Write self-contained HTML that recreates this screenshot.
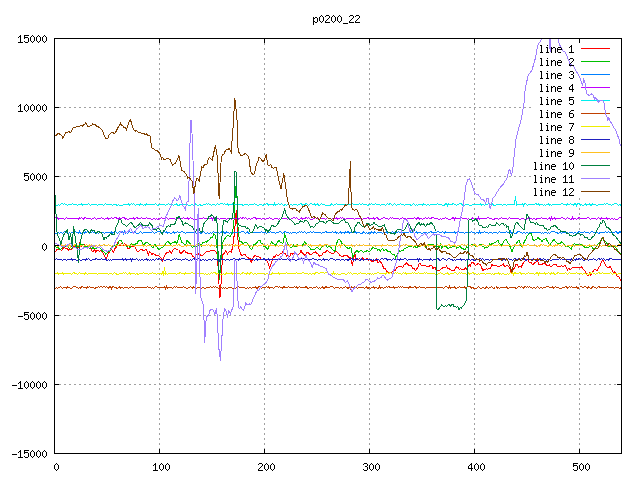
<!DOCTYPE html><html><head><meta charset="utf-8"><style>
html,body{margin:0;padding:0;background:#fff;width:640px;height:480px;overflow:hidden}
svg{display:block}
</style></head><body>
<svg width="640" height="480" viewBox="0 0 640 480" shape-rendering="crispEdges">
<defs><clipPath id="c"><rect x="55" y="39" width="566" height="414"/></clipPath></defs>

<path fill="#a0a0a0" d="M59 384h2v1h-2zM64 384h2v1h-2zM69 384h2v1h-2zM74 384h2v1h-2zM79 384h2v1h-2zM84 384h2v1h-2zM89 384h2v1h-2zM94 384h2v1h-2zM99 384h2v1h-2zM104 384h2v1h-2zM109 384h2v1h-2zM114 384h2v1h-2zM119 384h2v1h-2zM124 384h2v1h-2zM129 384h2v1h-2zM134 384h2v1h-2zM139 384h2v1h-2zM144 384h2v1h-2zM149 384h2v1h-2zM154 384h2v1h-2zM159 384h2v1h-2zM164 384h2v1h-2zM169 384h2v1h-2zM174 384h2v1h-2zM179 384h2v1h-2zM184 384h2v1h-2zM189 384h2v1h-2zM194 384h2v1h-2zM199 384h2v1h-2zM204 384h2v1h-2zM209 384h2v1h-2zM214 384h2v1h-2zM219 384h2v1h-2zM224 384h2v1h-2zM229 384h2v1h-2zM234 384h2v1h-2zM239 384h2v1h-2zM244 384h2v1h-2zM249 384h2v1h-2zM254 384h2v1h-2zM259 384h2v1h-2zM264 384h2v1h-2zM269 384h2v1h-2zM274 384h2v1h-2zM279 384h2v1h-2zM284 384h2v1h-2zM289 384h2v1h-2zM294 384h2v1h-2zM299 384h2v1h-2zM304 384h2v1h-2zM309 384h2v1h-2zM314 384h2v1h-2zM319 384h2v1h-2zM324 384h2v1h-2zM329 384h2v1h-2zM334 384h2v1h-2zM339 384h2v1h-2zM344 384h2v1h-2zM349 384h2v1h-2zM354 384h2v1h-2zM359 384h2v1h-2zM364 384h2v1h-2zM369 384h2v1h-2zM374 384h2v1h-2zM379 384h2v1h-2zM384 384h2v1h-2zM389 384h2v1h-2zM394 384h2v1h-2zM399 384h2v1h-2zM404 384h2v1h-2zM409 384h2v1h-2zM414 384h2v1h-2zM419 384h2v1h-2zM424 384h2v1h-2zM429 384h2v1h-2zM434 384h2v1h-2zM439 384h2v1h-2zM444 384h2v1h-2zM449 384h2v1h-2zM454 384h2v1h-2zM459 384h2v1h-2zM464 384h2v1h-2zM469 384h2v1h-2zM474 384h2v1h-2zM479 384h2v1h-2zM484 384h2v1h-2zM489 384h2v1h-2zM494 384h2v1h-2zM499 384h2v1h-2zM504 384h2v1h-2zM509 384h2v1h-2zM514 384h2v1h-2zM519 384h2v1h-2zM524 384h2v1h-2zM529 384h2v1h-2zM534 384h2v1h-2zM539 384h2v1h-2zM544 384h2v1h-2zM549 384h2v1h-2zM554 384h2v1h-2zM559 384h2v1h-2zM564 384h2v1h-2zM569 384h2v1h-2zM574 384h2v1h-2zM579 384h2v1h-2zM584 384h2v1h-2zM589 384h2v1h-2zM594 384h2v1h-2zM599 384h2v1h-2zM604 384h2v1h-2zM609 384h2v1h-2zM614 384h2v1h-2zM59 315h2v1h-2zM64 315h2v1h-2zM69 315h2v1h-2zM74 315h2v1h-2zM79 315h2v1h-2zM84 315h2v1h-2zM89 315h2v1h-2zM94 315h2v1h-2zM99 315h2v1h-2zM104 315h2v1h-2zM109 315h2v1h-2zM114 315h2v1h-2zM119 315h2v1h-2zM124 315h2v1h-2zM129 315h2v1h-2zM134 315h2v1h-2zM139 315h2v1h-2zM144 315h2v1h-2zM149 315h2v1h-2zM154 315h2v1h-2zM159 315h2v1h-2zM164 315h2v1h-2zM169 315h2v1h-2zM174 315h2v1h-2zM179 315h2v1h-2zM184 315h2v1h-2zM189 315h2v1h-2zM194 315h2v1h-2zM199 315h2v1h-2zM204 315h2v1h-2zM209 315h2v1h-2zM214 315h2v1h-2zM219 315h2v1h-2zM224 315h2v1h-2zM229 315h2v1h-2zM234 315h2v1h-2zM239 315h2v1h-2zM244 315h2v1h-2zM249 315h2v1h-2zM254 315h2v1h-2zM259 315h2v1h-2zM264 315h2v1h-2zM269 315h2v1h-2zM274 315h2v1h-2zM279 315h2v1h-2zM284 315h2v1h-2zM289 315h2v1h-2zM294 315h2v1h-2zM299 315h2v1h-2zM304 315h2v1h-2zM309 315h2v1h-2zM314 315h2v1h-2zM319 315h2v1h-2zM324 315h2v1h-2zM329 315h2v1h-2zM334 315h2v1h-2zM339 315h2v1h-2zM344 315h2v1h-2zM349 315h2v1h-2zM354 315h2v1h-2zM359 315h2v1h-2zM364 315h2v1h-2zM369 315h2v1h-2zM374 315h2v1h-2zM379 315h2v1h-2zM384 315h2v1h-2zM389 315h2v1h-2zM394 315h2v1h-2zM399 315h2v1h-2zM404 315h2v1h-2zM409 315h2v1h-2zM414 315h2v1h-2zM419 315h2v1h-2zM424 315h2v1h-2zM429 315h2v1h-2zM434 315h2v1h-2zM439 315h2v1h-2zM444 315h2v1h-2zM449 315h2v1h-2zM454 315h2v1h-2zM459 315h2v1h-2zM464 315h2v1h-2zM469 315h2v1h-2zM474 315h2v1h-2zM479 315h2v1h-2zM484 315h2v1h-2zM489 315h2v1h-2zM494 315h2v1h-2zM499 315h2v1h-2zM504 315h2v1h-2zM509 315h2v1h-2zM514 315h2v1h-2zM519 315h2v1h-2zM524 315h2v1h-2zM529 315h2v1h-2zM534 315h2v1h-2zM539 315h2v1h-2zM544 315h2v1h-2zM549 315h2v1h-2zM554 315h2v1h-2zM559 315h2v1h-2zM564 315h2v1h-2zM569 315h2v1h-2zM574 315h2v1h-2zM579 315h2v1h-2zM584 315h2v1h-2zM589 315h2v1h-2zM594 315h2v1h-2zM599 315h2v1h-2zM604 315h2v1h-2zM609 315h2v1h-2zM614 315h2v1h-2zM59 245h2v1h-2zM64 245h2v1h-2zM69 245h2v1h-2zM74 245h2v1h-2zM79 245h2v1h-2zM84 245h2v1h-2zM89 245h2v1h-2zM94 245h2v1h-2zM99 245h2v1h-2zM104 245h2v1h-2zM109 245h2v1h-2zM114 245h2v1h-2zM119 245h2v1h-2zM124 245h2v1h-2zM129 245h2v1h-2zM134 245h2v1h-2zM139 245h2v1h-2zM144 245h2v1h-2zM149 245h2v1h-2zM154 245h2v1h-2zM159 245h2v1h-2zM164 245h2v1h-2zM169 245h2v1h-2zM174 245h2v1h-2zM179 245h2v1h-2zM184 245h2v1h-2zM189 245h2v1h-2zM194 245h2v1h-2zM199 245h2v1h-2zM204 245h2v1h-2zM209 245h2v1h-2zM214 245h2v1h-2zM219 245h2v1h-2zM224 245h2v1h-2zM229 245h2v1h-2zM234 245h2v1h-2zM239 245h2v1h-2zM244 245h2v1h-2zM249 245h2v1h-2zM254 245h2v1h-2zM259 245h2v1h-2zM264 245h2v1h-2zM269 245h2v1h-2zM274 245h2v1h-2zM279 245h2v1h-2zM284 245h2v1h-2zM289 245h2v1h-2zM294 245h2v1h-2zM299 245h2v1h-2zM304 245h2v1h-2zM309 245h2v1h-2zM314 245h2v1h-2zM319 245h2v1h-2zM324 245h2v1h-2zM329 245h2v1h-2zM334 245h2v1h-2zM339 245h2v1h-2zM344 245h2v1h-2zM349 245h2v1h-2zM354 245h2v1h-2zM359 245h2v1h-2zM364 245h2v1h-2zM369 245h2v1h-2zM374 245h2v1h-2zM379 245h2v1h-2zM384 245h2v1h-2zM389 245h2v1h-2zM394 245h2v1h-2zM399 245h2v1h-2zM404 245h2v1h-2zM409 245h2v1h-2zM414 245h2v1h-2zM419 245h2v1h-2zM424 245h2v1h-2zM429 245h2v1h-2zM434 245h2v1h-2zM439 245h2v1h-2zM444 245h2v1h-2zM449 245h2v1h-2zM454 245h2v1h-2zM459 245h2v1h-2zM464 245h2v1h-2zM469 245h2v1h-2zM474 245h2v1h-2zM479 245h2v1h-2zM484 245h2v1h-2zM489 245h2v1h-2zM494 245h2v1h-2zM499 245h2v1h-2zM504 245h2v1h-2zM509 245h2v1h-2zM514 245h2v1h-2zM519 245h2v1h-2zM524 245h2v1h-2zM529 245h2v1h-2zM534 245h2v1h-2zM539 245h2v1h-2zM544 245h2v1h-2zM549 245h2v1h-2zM554 245h2v1h-2zM559 245h2v1h-2zM564 245h2v1h-2zM569 245h2v1h-2zM574 245h2v1h-2zM579 245h2v1h-2zM584 245h2v1h-2zM589 245h2v1h-2zM594 245h2v1h-2zM599 245h2v1h-2zM604 245h2v1h-2zM609 245h2v1h-2zM614 245h2v1h-2zM59 176h2v1h-2zM64 176h2v1h-2zM69 176h2v1h-2zM74 176h2v1h-2zM79 176h2v1h-2zM84 176h2v1h-2zM89 176h2v1h-2zM94 176h2v1h-2zM99 176h2v1h-2zM104 176h2v1h-2zM109 176h2v1h-2zM114 176h2v1h-2zM119 176h2v1h-2zM124 176h2v1h-2zM129 176h2v1h-2zM134 176h2v1h-2zM139 176h2v1h-2zM144 176h2v1h-2zM149 176h2v1h-2zM154 176h2v1h-2zM159 176h2v1h-2zM164 176h2v1h-2zM169 176h2v1h-2zM174 176h2v1h-2zM179 176h2v1h-2zM184 176h2v1h-2zM189 176h2v1h-2zM194 176h2v1h-2zM199 176h2v1h-2zM204 176h2v1h-2zM209 176h2v1h-2zM214 176h2v1h-2zM219 176h2v1h-2zM224 176h2v1h-2zM229 176h2v1h-2zM234 176h2v1h-2zM239 176h2v1h-2zM244 176h2v1h-2zM249 176h2v1h-2zM254 176h2v1h-2zM259 176h2v1h-2zM264 176h2v1h-2zM269 176h2v1h-2zM274 176h2v1h-2zM279 176h2v1h-2zM284 176h2v1h-2zM289 176h2v1h-2zM294 176h2v1h-2zM299 176h2v1h-2zM304 176h2v1h-2zM309 176h2v1h-2zM314 176h2v1h-2zM319 176h2v1h-2zM324 176h2v1h-2zM329 176h2v1h-2zM334 176h2v1h-2zM339 176h2v1h-2zM344 176h2v1h-2zM349 176h2v1h-2zM354 176h2v1h-2zM359 176h2v1h-2zM364 176h2v1h-2zM369 176h2v1h-2zM374 176h2v1h-2zM379 176h2v1h-2zM384 176h2v1h-2zM389 176h2v1h-2zM394 176h2v1h-2zM399 176h2v1h-2zM404 176h2v1h-2zM409 176h2v1h-2zM414 176h2v1h-2zM419 176h2v1h-2zM424 176h2v1h-2zM429 176h2v1h-2zM434 176h2v1h-2zM439 176h2v1h-2zM444 176h2v1h-2zM449 176h2v1h-2zM454 176h2v1h-2zM459 176h2v1h-2zM464 176h2v1h-2zM469 176h2v1h-2zM474 176h2v1h-2zM479 176h2v1h-2zM484 176h2v1h-2zM489 176h2v1h-2zM494 176h2v1h-2zM499 176h2v1h-2zM504 176h2v1h-2zM509 176h2v1h-2zM514 176h2v1h-2zM519 176h2v1h-2zM524 176h2v1h-2zM529 176h2v1h-2zM59 107h2v1h-2zM64 107h2v1h-2zM69 107h2v1h-2zM74 107h2v1h-2zM79 107h2v1h-2zM84 107h2v1h-2zM89 107h2v1h-2zM94 107h2v1h-2zM99 107h2v1h-2zM104 107h2v1h-2zM109 107h2v1h-2zM114 107h2v1h-2zM119 107h2v1h-2zM124 107h2v1h-2zM129 107h2v1h-2zM134 107h2v1h-2zM139 107h2v1h-2zM144 107h2v1h-2zM149 107h2v1h-2zM154 107h2v1h-2zM159 107h2v1h-2zM164 107h2v1h-2zM169 107h2v1h-2zM174 107h2v1h-2zM179 107h2v1h-2zM184 107h2v1h-2zM189 107h2v1h-2zM194 107h2v1h-2zM199 107h2v1h-2zM204 107h2v1h-2zM209 107h2v1h-2zM214 107h2v1h-2zM219 107h2v1h-2zM224 107h2v1h-2zM229 107h2v1h-2zM234 107h2v1h-2zM239 107h2v1h-2zM244 107h2v1h-2zM249 107h2v1h-2zM254 107h2v1h-2zM259 107h2v1h-2zM264 107h2v1h-2zM269 107h2v1h-2zM274 107h2v1h-2zM279 107h2v1h-2zM284 107h2v1h-2zM289 107h2v1h-2zM294 107h2v1h-2zM299 107h2v1h-2zM304 107h2v1h-2zM309 107h2v1h-2zM314 107h2v1h-2zM319 107h2v1h-2zM324 107h2v1h-2zM329 107h2v1h-2zM334 107h2v1h-2zM339 107h2v1h-2zM344 107h2v1h-2zM349 107h2v1h-2zM354 107h2v1h-2zM359 107h2v1h-2zM364 107h2v1h-2zM369 107h2v1h-2zM374 107h2v1h-2zM379 107h2v1h-2zM384 107h2v1h-2zM389 107h2v1h-2zM394 107h2v1h-2zM399 107h2v1h-2zM404 107h2v1h-2zM409 107h2v1h-2zM414 107h2v1h-2zM419 107h2v1h-2zM424 107h2v1h-2zM429 107h2v1h-2zM434 107h2v1h-2zM439 107h2v1h-2zM444 107h2v1h-2zM449 107h2v1h-2zM454 107h2v1h-2zM459 107h2v1h-2zM464 107h2v1h-2zM469 107h2v1h-2zM474 107h2v1h-2zM479 107h2v1h-2zM484 107h2v1h-2zM489 107h2v1h-2zM494 107h2v1h-2zM499 107h2v1h-2zM504 107h2v1h-2zM509 107h2v1h-2zM514 107h2v1h-2zM519 107h2v1h-2zM524 107h2v1h-2zM529 107h2v1h-2zM159 43h1v2h-1zM159 48h1v2h-1zM159 53h1v2h-1zM159 58h1v2h-1zM159 63h1v2h-1zM159 68h1v2h-1zM159 73h1v2h-1zM159 78h1v2h-1zM159 83h1v2h-1zM159 88h1v2h-1zM159 93h1v2h-1zM159 98h1v2h-1zM159 103h1v2h-1zM159 108h1v2h-1zM159 113h1v2h-1zM159 118h1v2h-1zM159 123h1v2h-1zM159 128h1v2h-1zM159 133h1v2h-1zM159 138h1v2h-1zM159 143h1v2h-1zM159 148h1v2h-1zM159 153h1v2h-1zM159 158h1v2h-1zM159 163h1v2h-1zM159 168h1v2h-1zM159 173h1v2h-1zM159 178h1v2h-1zM159 183h1v2h-1zM159 188h1v2h-1zM159 193h1v2h-1zM159 198h1v2h-1zM159 203h1v2h-1zM159 208h1v2h-1zM159 213h1v2h-1zM159 218h1v2h-1zM159 223h1v2h-1zM159 228h1v2h-1zM159 233h1v2h-1zM159 238h1v2h-1zM159 243h1v2h-1zM159 248h1v2h-1zM159 253h1v2h-1zM159 258h1v2h-1zM159 263h1v2h-1zM159 268h1v2h-1zM159 273h1v2h-1zM159 278h1v2h-1zM159 283h1v2h-1zM159 288h1v2h-1zM159 293h1v2h-1zM159 298h1v2h-1zM159 303h1v2h-1zM159 308h1v2h-1zM159 313h1v2h-1zM159 318h1v2h-1zM159 323h1v2h-1zM159 328h1v2h-1zM159 333h1v2h-1zM159 338h1v2h-1zM159 343h1v2h-1zM159 348h1v2h-1zM159 353h1v2h-1zM159 358h1v2h-1zM159 363h1v2h-1zM159 368h1v2h-1zM159 373h1v2h-1zM159 378h1v2h-1zM159 383h1v2h-1zM159 388h1v2h-1zM159 393h1v2h-1zM159 398h1v2h-1zM159 403h1v2h-1zM159 408h1v2h-1zM159 413h1v2h-1zM159 418h1v2h-1zM159 423h1v2h-1zM159 428h1v2h-1zM159 433h1v2h-1zM159 438h1v2h-1zM159 443h1v2h-1zM159 448h1v2h-1zM264 43h1v2h-1zM264 48h1v2h-1zM264 53h1v2h-1zM264 58h1v2h-1zM264 63h1v2h-1zM264 68h1v2h-1zM264 73h1v2h-1zM264 78h1v2h-1zM264 83h1v2h-1zM264 88h1v2h-1zM264 93h1v2h-1zM264 98h1v2h-1zM264 103h1v2h-1zM264 108h1v2h-1zM264 113h1v2h-1zM264 118h1v2h-1zM264 123h1v2h-1zM264 128h1v2h-1zM264 133h1v2h-1zM264 138h1v2h-1zM264 143h1v2h-1zM264 148h1v2h-1zM264 153h1v2h-1zM264 158h1v2h-1zM264 163h1v2h-1zM264 168h1v2h-1zM264 173h1v2h-1zM264 178h1v2h-1zM264 183h1v2h-1zM264 188h1v2h-1zM264 193h1v2h-1zM264 198h1v2h-1zM264 203h1v2h-1zM264 208h1v2h-1zM264 213h1v2h-1zM264 218h1v2h-1zM264 223h1v2h-1zM264 228h1v2h-1zM264 233h1v2h-1zM264 238h1v2h-1zM264 243h1v2h-1zM264 248h1v2h-1zM264 253h1v2h-1zM264 258h1v2h-1zM264 263h1v2h-1zM264 268h1v2h-1zM264 273h1v2h-1zM264 278h1v2h-1zM264 283h1v2h-1zM264 288h1v2h-1zM264 293h1v2h-1zM264 298h1v2h-1zM264 303h1v2h-1zM264 308h1v2h-1zM264 313h1v2h-1zM264 318h1v2h-1zM264 323h1v2h-1zM264 328h1v2h-1zM264 333h1v2h-1zM264 338h1v2h-1zM264 343h1v2h-1zM264 348h1v2h-1zM264 353h1v2h-1zM264 358h1v2h-1zM264 363h1v2h-1zM264 368h1v2h-1zM264 373h1v2h-1zM264 378h1v2h-1zM264 383h1v2h-1zM264 388h1v2h-1zM264 393h1v2h-1zM264 398h1v2h-1zM264 403h1v2h-1zM264 408h1v2h-1zM264 413h1v2h-1zM264 418h1v2h-1zM264 423h1v2h-1zM264 428h1v2h-1zM264 433h1v2h-1zM264 438h1v2h-1zM264 443h1v2h-1zM264 448h1v2h-1zM369 43h1v2h-1zM369 48h1v2h-1zM369 53h1v2h-1zM369 58h1v2h-1zM369 63h1v2h-1zM369 68h1v2h-1zM369 73h1v2h-1zM369 78h1v2h-1zM369 83h1v2h-1zM369 88h1v2h-1zM369 93h1v2h-1zM369 98h1v2h-1zM369 103h1v2h-1zM369 108h1v2h-1zM369 113h1v2h-1zM369 118h1v2h-1zM369 123h1v2h-1zM369 128h1v2h-1zM369 133h1v2h-1zM369 138h1v2h-1zM369 143h1v2h-1zM369 148h1v2h-1zM369 153h1v2h-1zM369 158h1v2h-1zM369 163h1v2h-1zM369 168h1v2h-1zM369 173h1v2h-1zM369 178h1v2h-1zM369 183h1v2h-1zM369 188h1v2h-1zM369 193h1v2h-1zM369 198h1v2h-1zM369 203h1v2h-1zM369 208h1v2h-1zM369 213h1v2h-1zM369 218h1v2h-1zM369 223h1v2h-1zM369 228h1v2h-1zM369 233h1v2h-1zM369 238h1v2h-1zM369 243h1v2h-1zM369 248h1v2h-1zM369 253h1v2h-1zM369 258h1v2h-1zM369 263h1v2h-1zM369 268h1v2h-1zM369 273h1v2h-1zM369 278h1v2h-1zM369 283h1v2h-1zM369 288h1v2h-1zM369 293h1v2h-1zM369 298h1v2h-1zM369 303h1v2h-1zM369 308h1v2h-1zM369 313h1v2h-1zM369 318h1v2h-1zM369 323h1v2h-1zM369 328h1v2h-1zM369 333h1v2h-1zM369 338h1v2h-1zM369 343h1v2h-1zM369 348h1v2h-1zM369 353h1v2h-1zM369 358h1v2h-1zM369 363h1v2h-1zM369 368h1v2h-1zM369 373h1v2h-1zM369 378h1v2h-1zM369 383h1v2h-1zM369 388h1v2h-1zM369 393h1v2h-1zM369 398h1v2h-1zM369 403h1v2h-1zM369 408h1v2h-1zM369 413h1v2h-1zM369 418h1v2h-1zM369 423h1v2h-1zM369 428h1v2h-1zM369 433h1v2h-1zM369 438h1v2h-1zM369 443h1v2h-1zM369 448h1v2h-1zM474 43h1v2h-1zM474 48h1v2h-1zM474 53h1v2h-1zM474 58h1v2h-1zM474 63h1v2h-1zM474 68h1v2h-1zM474 73h1v2h-1zM474 78h1v2h-1zM474 83h1v2h-1zM474 88h1v2h-1zM474 93h1v2h-1zM474 98h1v2h-1zM474 103h1v2h-1zM474 108h1v2h-1zM474 113h1v2h-1zM474 118h1v2h-1zM474 123h1v2h-1zM474 128h1v2h-1zM474 133h1v2h-1zM474 138h1v2h-1zM474 143h1v2h-1zM474 148h1v2h-1zM474 153h1v2h-1zM474 158h1v2h-1zM474 163h1v2h-1zM474 168h1v2h-1zM474 173h1v2h-1zM474 178h1v2h-1zM474 183h1v2h-1zM474 188h1v2h-1zM474 193h1v2h-1zM474 198h1v2h-1zM474 203h1v2h-1zM474 208h1v2h-1zM474 213h1v2h-1zM474 218h1v2h-1zM474 223h1v2h-1zM474 228h1v2h-1zM474 233h1v2h-1zM474 238h1v2h-1zM474 243h1v2h-1zM474 248h1v2h-1zM474 253h1v2h-1zM474 258h1v2h-1zM474 263h1v2h-1zM474 268h1v2h-1zM474 273h1v2h-1zM474 278h1v2h-1zM474 283h1v2h-1zM474 288h1v2h-1zM474 293h1v2h-1zM474 298h1v2h-1zM474 303h1v2h-1zM474 308h1v2h-1zM474 313h1v2h-1zM474 318h1v2h-1zM474 323h1v2h-1zM474 328h1v2h-1zM474 333h1v2h-1zM474 338h1v2h-1zM474 343h1v2h-1zM474 348h1v2h-1zM474 353h1v2h-1zM474 358h1v2h-1zM474 363h1v2h-1zM474 368h1v2h-1zM474 373h1v2h-1zM474 378h1v2h-1zM474 383h1v2h-1zM474 388h1v2h-1zM474 393h1v2h-1zM474 398h1v2h-1zM474 403h1v2h-1zM474 408h1v2h-1zM474 413h1v2h-1zM474 418h1v2h-1zM474 423h1v2h-1zM474 428h1v2h-1zM474 433h1v2h-1zM474 438h1v2h-1zM474 443h1v2h-1zM474 448h1v2h-1zM579 198h1v2h-1zM579 203h1v2h-1zM579 208h1v2h-1zM579 213h1v2h-1zM579 218h1v2h-1zM579 223h1v2h-1zM579 228h1v2h-1zM579 233h1v2h-1zM579 238h1v2h-1zM579 243h1v2h-1zM579 248h1v2h-1zM579 253h1v2h-1zM579 258h1v2h-1zM579 263h1v2h-1zM579 268h1v2h-1zM579 273h1v2h-1zM579 278h1v2h-1zM579 283h1v2h-1zM579 288h1v2h-1zM579 293h1v2h-1zM579 298h1v2h-1zM579 303h1v2h-1zM579 308h1v2h-1zM579 313h1v2h-1zM579 318h1v2h-1zM579 323h1v2h-1zM579 328h1v2h-1zM579 333h1v2h-1zM579 338h1v2h-1zM579 343h1v2h-1zM579 348h1v2h-1zM579 353h1v2h-1zM579 358h1v2h-1zM579 363h1v2h-1zM579 368h1v2h-1zM579 373h1v2h-1zM579 378h1v2h-1zM579 383h1v2h-1zM579 388h1v2h-1zM579 393h1v2h-1zM579 398h1v2h-1zM579 403h1v2h-1zM579 408h1v2h-1zM579 413h1v2h-1zM579 418h1v2h-1zM579 423h1v2h-1zM579 428h1v2h-1zM579 433h1v2h-1zM579 438h1v2h-1zM579 443h1v2h-1zM579 448h1v2h-1z"/>
<path fill="#ff0000" d="M581 48h29v1h-29z"/><path clip-path="url(#c)" fill="none" stroke-width="1" stroke="#ff0000" d="M54.83 251.67L56.08 250.90L57.33 249.17L58.44 249.48L59.56 248.54L60.67 250.00L61.78 250.11L62.89 248.65L64.00 247.50L65.11 248.15L66.22 248.25L67.33 248.33L68.44 250.28L69.56 249.88L70.67 249.17L71.78 249.65L72.89 247.22L74.00 246.67L75.11 246.76L76.22 246.72L77.33 248.33L78.44 246.98L79.56 243.25L80.67 245.00L81.78 246.47L82.89 244.61L84.00 244.17L85.11 245.39L86.22 247.33L87.33 247.50L88.44 247.40L89.56 248.34L90.67 248.33L91.92 250.85L93.17 251.67L94.56 249.46L95.94 252.43L97.33 250.00L98.44 250.45L99.56 251.23L100.67 250.83L101.78 251.14L102.89 252.97L104.00 255.00L105.67 258.33L106.78 258.22L107.89 253.90L109.00 252.50L110.25 250.00L111.50 248.33L113.17 252.50L114.42 250.12L115.67 246.67L116.78 247.38L117.89 242.43L119.00 244.17L120.11 245.49L121.22 243.92L122.33 243.33L123.44 244.87L124.56 243.38L125.67 245.00L126.78 246.46L127.89 248.97L129.00 248.33L130.11 247.69L131.22 246.57L132.33 246.67L134.00 245.83L135.11 247.33L136.22 249.18L137.33 251.67L138.44 251.71L139.56 250.23L140.67 249.17L141.78 249.21L142.89 251.14L144.00 250.83L145.11 249.96L146.22 249.87L147.33 251.67L148.44 254.60L149.56 251.56L150.67 252.50L151.78 254.82L152.89 253.54L154.00 254.17L155.11 254.51L156.22 255.86L157.33 255.83L158.58 255.35L159.83 256.67L161.08 257.87L162.33 260.83L163.58 257.71L164.83 255.00L166.08 253.36L167.33 252.50L168.58 252.46L169.83 250.83L171.08 253.36L172.33 251.67L173.44 249.32L174.56 248.53L175.67 248.33L176.78 249.72L177.89 250.02L179.00 250.00L180.00 252.50L181.25 253.47L182.50 252.00L183.75 250.73L185.00 251.00L186.25 252.66L187.50 253.00L188.75 253.47L190.00 254.00L191.25 253.28L192.50 256.00L193.75 257.00L195.00 257.00L196.25 254.34L197.50 255.00L199.40 253.00L201.25 256.00L203.00 255.00L205.00 253.00L207.00 251.00L209.00 252.00L211.00 250.00L212.38 250.60L213.75 250.00L215.00 250.79L216.25 252.50L217.50 255.00L218.75 281.00L220.00 297.50L221.25 281.00L222.50 255.00L223.75 254.00L225.60 251.00L227.50 254.00L228.75 252.31L230.00 251.00L231.25 251.82L232.50 248.00L234.40 233.50L236.25 209.75L237.50 233.50L238.75 248.50L240.75 254.00L242.00 256.16L243.25 255.00L245.00 254.00L246.25 256.23L247.50 257.50L248.75 258.20L250.00 258.00L251.25 262.50L253.00 258.00L255.00 255.00L257.00 257.00L258.50 256.44L260.00 257.50L261.35 259.29L262.70 259.06L264.06 258.80L265.31 259.15L266.56 259.54L267.81 262.55L269.68 268.18L270.94 264.45L272.19 260.51L273.44 256.92L274.56 257.50L275.69 255.09L276.81 254.87L277.94 255.90L279.07 255.05L280.32 253.91L281.57 253.59L282.82 251.29L284.07 254.08L285.32 253.48L286.57 255.98L287.88 254.75L289.75 256.62L291.00 252.86L292.25 254.12L293.50 253.58L294.75 252.88L296.00 253.36L297.25 255.38L298.50 254.72L299.75 253.50L301.00 250.30L302.25 252.88L303.50 254.04L304.75 255.38L306.00 253.93L307.25 252.25L308.50 252.92L309.75 254.75L311.00 254.70L312.25 253.50L313.81 252.70L315.38 251.62L316.62 253.15L317.88 254.12L319.12 256.17L320.38 255.38L321.94 255.23L323.50 252.25L324.75 252.94L326.00 251.43L327.25 250.38L328.50 251.49L329.75 252.25L331.31 253.51L332.88 253.50L334.12 252.92L335.38 251.62L336.94 251.80L338.50 253.50L339.75 255.19L341.00 256.00L342.25 257.01L343.50 256.00L344.75 255.27L346.00 255.38L347.25 255.17L348.50 257.25L350.38 257.88L352.25 264.75L353.50 259.75L354.75 252.25L356.00 258.50L357.25 259.46L358.50 259.12L359.75 258.66L361.00 259.75L362.25 257.87L363.50 259.12L364.75 259.20L366.00 259.75L367.14 258.29L368.29 260.30L369.43 259.49L370.57 260.21L371.71 261.43L372.86 261.49L374.00 260.36L375.25 260.90L376.50 259.22L377.75 262.23L379.00 262.06L380.25 261.63L381.50 263.17L382.76 266.03L384.01 268.62L385.26 268.80L386.51 270.82L387.76 272.02L389.01 272.55L390.26 272.86L391.51 272.68L392.76 271.61L394.01 269.99L395.26 270.10L396.51 267.86L397.76 267.25L399.02 266.02L400.27 266.92L401.52 266.38L402.77 267.41L404.02 265.05L405.27 264.56L406.52 262.56L407.77 264.11L409.02 266.09L410.27 265.64L411.52 265.98L412.77 268.16L414.03 268.64L415.28 270.68L416.53 269.03L417.78 268.05L419.03 264.11L420.28 263.76L421.53 265.50L422.78 265.05L424.03 266.08L425.28 265.40L426.53 266.92L427.78 266.52L429.03 266.33L430.29 265.05L431.54 265.11L432.79 268.20L434.04 267.86L435.29 267.64L436.54 271.00L437.79 270.68L439.04 270.74L440.29 269.73L441.54 268.80L442.79 267.68L444.04 267.37L445.29 267.86L446.55 265.83L447.80 268.49L449.05 268.80L450.30 269.32L451.55 270.67L452.80 270.68L454.05 270.55L455.30 268.42L456.55 266.92L457.80 267.22L459.05 269.26L460.30 268.80L461.55 269.13L462.81 269.43L464.06 269.74L465.31 267.57L466.56 269.02L467.81 266.92L469.06 264.67L470.31 265.89L471.56 262.23L472.81 262.28L474.06 263.62L475.31 265.05L476.56 264.86L477.81 263.70L479.07 264.11L480.32 264.77L481.57 267.30L482.82 270.68L484.07 269.20L485.32 269.20L486.57 268.80L487.63 269.48L488.69 268.74L489.75 267.97L490.82 268.09L491.88 264.50L492.94 265.77L494.00 266.00L495.33 265.77L496.67 265.59L498.00 267.00L499.33 266.87L500.67 265.00L502.00 265.00L503.33 264.19L504.67 266.64L506.00 266.00L507.50 265.83L509.00 267.00L510.50 270.26L512.00 274.00L513.33 269.09L514.67 268.32L516.00 264.00L517.33 264.74L518.67 266.90L520.00 266.00L521.33 267.04L522.67 264.07L524.00 262.00L525.33 260.64L526.67 259.19L528.00 259.00L529.33 262.44L530.67 262.15L532.00 264.00L533.33 264.03L534.67 262.95L536.00 262.00L537.33 259.45L538.67 264.19L540.00 265.00L541.33 264.53L542.67 263.91L544.00 263.00L545.33 263.88L546.67 265.28L548.00 266.00L549.33 264.95L550.67 266.67L552.00 266.00L553.33 264.82L554.67 264.87L556.00 264.00L557.33 266.78L558.67 266.26L560.00 267.00L561.33 265.60L562.67 266.75L564.00 266.00L565.20 265.29L566.40 267.81L567.60 269.92L568.80 268.11L570.00 270.00L571.33 268.87L572.67 267.10L574.00 267.00L575.20 267.41L576.40 267.78L577.60 267.82L578.80 267.53L580.00 268.00L581.33 266.68L582.67 268.41L584.00 270.00L585.33 271.56L586.67 274.89L588.00 276.00L589.33 272.91L590.67 275.18L592.00 273.00L593.33 271.23L594.67 269.25L596.00 270.00L597.33 270.24L598.67 267.72L600.00 266.00L601.50 262.03L603.00 260.00L604.50 263.31L606.00 266.00L607.50 267.16L609.00 267.00L610.50 267.01L612.00 270.00L613.33 272.72L614.67 271.79L616.00 274.00L617.33 276.56L618.67 276.77L620.00 279.00L622.00 282.00"/><path fill="#00c000" d="M581 61h29v1h-29z"/><path clip-path="url(#c)" fill="none" stroke-width="1" stroke="#00c000" d="M54.83 245.83L56.08 247.22L57.33 247.50L58.44 247.79L59.56 249.34L60.67 249.17L61.78 248.20L62.89 245.42L64.00 246.67L65.11 246.86L66.22 245.38L67.33 245.83L68.44 247.33L69.56 248.29L70.67 247.50L71.78 248.83L72.89 246.44L74.00 245.00L75.11 245.50L76.22 246.92L77.33 246.67L78.44 246.62L79.56 243.28L80.67 244.17L81.78 244.24L82.89 243.99L84.00 245.00L85.11 246.67L86.22 246.48L87.33 246.67L88.44 247.53L89.56 248.33L90.67 247.50L91.78 248.65L92.89 247.33L94.00 249.17L95.11 248.08L96.22 248.84L97.33 247.50L98.44 247.44L99.56 247.44L100.67 248.33L101.78 250.38L102.89 251.36L104.00 251.67L105.67 254.17L106.78 253.05L107.89 252.23L109.00 251.67L110.11 251.02L111.22 248.03L112.33 246.67L113.72 245.36L115.11 246.31L116.50 245.00L117.89 244.77L119.28 240.49L120.67 240.00L121.78 241.07L122.89 244.09L124.00 245.00L125.25 245.27L126.50 246.18L127.75 246.19L129.00 245.83L130.11 247.77L131.22 243.04L132.33 244.17L134.00 245.00L135.11 244.99L136.22 243.10L137.33 243.33L138.44 240.27L139.56 240.26L140.67 240.00L141.92 241.53L143.17 244.17L144.42 244.17L145.67 242.50L146.78 242.85L147.89 242.72L149.00 244.17L150.11 244.34L151.22 246.54L152.33 247.50L153.44 247.20L154.56 244.75L155.67 245.00L156.78 246.81L157.89 248.44L159.00 250.00L160.11 248.86L161.22 247.95L162.33 247.50L163.58 246.32L164.83 245.83L166.08 243.13L167.33 241.67L168.44 241.60L169.56 243.16L170.67 244.17L171.78 243.31L172.89 242.61L174.00 242.50L175.11 241.27L176.22 243.29L177.33 242.50L179.33 234.17L180.00 236.67L181.88 242.25L183.12 243.00L184.38 244.12L185.62 245.33L186.88 240.38L188.75 242.25L190.62 244.12L192.19 247.68L193.75 246.00L195.00 246.17L196.25 246.62L197.50 247.23L198.75 243.50L200.00 243.76L201.25 246.00L202.50 242.72L203.75 242.88L205.00 241.74L206.25 242.25L207.50 241.01L208.75 240.38L210.00 239.02L211.25 237.25L212.50 237.38L213.75 233.50L215.62 236.00L216.88 246.00L218.19 261.99L219.50 280.00L221.00 260.00L222.50 243.50L224.40 239.00L226.25 237.00L228.00 234.75L230.00 237.00L231.90 233.50L233.75 226.00L235.60 185.60L236.90 192.00L238.00 227.00L239.40 241.00L241.25 241.60L243.10 244.00L245.00 242.00L246.25 242.70L247.50 243.50L249.40 246.60L251.25 249.75L252.50 248.22L253.75 244.75L255.00 244.28L256.25 243.50L258.00 241.00L260.00 240.40L261.12 243.26L262.23 243.87L263.35 245.86L264.46 246.54L265.58 247.08L266.69 248.36L267.81 249.42L269.06 245.79L270.31 244.58L271.56 241.91L272.81 243.35L274.06 244.25L275.31 245.67L276.56 243.43L277.81 241.64L279.07 240.04L280.32 242.62L281.57 242.44L282.82 243.79L284.69 234.41L286.57 240.04L287.25 243.50L289.12 246.00L291.00 247.88L292.25 246.57L293.50 244.75L294.75 246.13L296.00 246.62L297.25 244.46L298.50 245.38L299.75 245.34L301.00 246.00L302.25 245.08L303.50 244.75L304.75 241.56L306.00 243.50L307.25 245.31L308.50 246.62L309.75 247.42L311.00 249.75L312.25 249.38L313.50 249.12L314.75 249.56L316.00 247.93L317.25 247.88L318.50 248.22L319.75 249.75L321.00 248.10L322.25 246.62L323.50 246.36L324.75 244.12L326.00 244.84L327.25 247.88L328.50 246.11L329.75 246.62L331.31 247.96L332.88 249.75L334.75 251.62L336.62 243.50L338.50 239.12L339.75 239.78L341.00 241.62L342.25 243.81L343.50 244.12L344.75 245.49L346.00 247.25L347.25 247.86L348.50 248.50L349.75 247.80L351.00 247.88L352.88 257.25L354.12 254.75L356.00 251.62L357.25 250.31L358.50 252.25L359.75 251.53L361.00 249.75L362.25 251.10L363.50 252.25L364.75 251.72L366.00 251.62L367.14 250.23L368.29 251.61L369.43 251.34L370.57 250.57L371.71 249.05L372.86 247.60L374.00 248.16L375.25 248.10L376.50 248.15L377.75 250.04L379.00 249.26L380.25 251.12L381.50 249.10L382.76 248.39L384.01 250.89L385.26 250.04L386.51 249.67L387.76 251.41L389.01 251.91L390.26 251.18L391.51 253.71L392.76 254.73L394.17 254.62L395.58 257.54L396.98 254.75L398.39 251.91L399.64 250.94L400.89 251.37L402.14 250.04L403.27 250.74L404.39 248.27L405.52 248.68L406.65 247.38L407.77 247.22L409.02 246.38L410.27 246.64L411.52 246.29L412.65 245.60L413.77 247.41L414.90 246.41L416.03 247.90L417.15 247.22L418.40 246.40L419.65 246.08L420.90 245.35L422.03 245.00L423.16 244.78L424.28 245.89L425.41 247.12L426.53 246.29L427.78 244.46L429.03 244.59L430.29 244.41L431.54 244.51L432.79 244.30L434.04 245.35L435.29 245.55L436.54 247.23L437.79 246.29L439.04 247.84L440.29 243.85L441.54 248.16L442.79 246.44L444.04 247.07L445.29 246.29L446.55 246.66L447.80 248.69L449.05 248.16L450.30 247.11L451.55 247.77L452.80 246.29L454.05 246.86L455.30 246.03L456.55 248.16L457.80 247.84L459.05 246.88L460.30 246.29L461.55 248.56L462.81 248.32L464.06 250.04L465.31 249.88L466.56 247.02L467.81 247.22L469.06 245.99L470.31 245.91L471.56 244.41L472.81 244.53L474.06 245.71L475.31 246.29L476.44 246.74L477.56 246.43L478.69 245.18L479.82 244.53L480.94 244.41L482.19 246.02L483.44 246.49L484.69 248.16L485.94 247.49L487.20 247.57L488.45 246.29L489.56 243.33L490.67 244.45L491.78 243.89L492.89 243.86L494.00 243.00L495.33 242.29L496.67 241.79L498.00 240.00L499.33 243.78L500.67 244.19L502.00 246.00L503.33 241.69L504.67 240.48L506.00 239.00L507.50 242.45L509.00 244.00L510.50 247.67L512.00 252.00L513.33 247.90L514.67 246.52L516.00 244.00L517.50 241.80L519.00 240.00L520.50 244.81L522.00 247.00L523.25 244.21L524.50 241.32L525.75 239.62L527.00 236.00L528.50 234.67L530.00 233.00L531.33 233.40L532.67 239.01L534.00 241.00L535.33 239.83L536.67 239.70L538.00 237.00L539.33 239.11L540.67 239.23L542.00 242.00L543.33 239.82L544.67 239.72L546.00 238.00L547.33 241.30L548.67 243.31L550.00 245.00L551.33 242.39L552.67 241.21L554.00 239.00L555.33 241.32L556.67 242.56L558.00 244.00L559.25 243.05L560.50 243.13L561.75 241.92L563.00 243.00L564.50 245.15L566.00 247.00L567.33 247.01L568.67 246.89L570.00 248.00L571.33 249.06L572.67 244.91L574.00 244.00L575.25 244.01L576.50 244.49L577.75 244.42L579.00 244.00L580.50 244.03L582.00 245.00L583.33 245.26L584.67 247.64L586.00 248.00L587.33 247.78L588.67 247.16L590.00 246.00L591.33 245.81L592.67 247.89L594.00 250.00L595.33 248.10L596.67 246.40L598.00 244.00L599.25 242.78L600.50 242.02L601.75 238.57L603.00 238.00L604.50 241.74L606.00 242.00L607.33 243.79L608.67 246.28L610.00 247.00L611.33 246.32L612.67 247.03L614.00 246.00L615.33 247.11L616.67 248.75L618.00 251.00L619.33 253.85L620.67 254.03L622.00 257.00"/><path fill="#0080ff" d="M581 74h29v1h-29z"/><path clip-path="url(#c)" fill="none" stroke-width="1" stroke="#0080ff" d="M54.50 232.50L55.50 233.50L56.50 233.50L57.50 233.50L58.50 232.50L59.50 233.50L60.50 232.50L61.50 232.50L62.50 233.50L63.50 232.50L64.50 231.50L65.50 232.50L66.50 232.50L67.50 232.50L68.50 233.50L69.50 232.50L70.50 233.50L71.50 232.50L72.50 232.50L73.50 232.50L75.50 231.50L76.50 232.50L77.50 232.50L78.50 233.50L79.50 231.50L80.50 233.50L81.50 233.50L82.50 232.50L83.50 232.50L84.50 233.50L85.50 231.50L86.50 232.50L87.50 231.50L88.50 232.50L89.50 233.50L90.50 232.50L91.50 232.50L92.50 231.50L93.50 232.50L94.50 232.50L96.50 233.50L97.50 232.50L98.50 233.50L99.50 232.50L100.50 232.50L101.50 232.50L102.50 232.50L103.50 232.50L104.50 233.50L105.50 232.50L106.50 232.50L107.50 232.50L108.50 232.50L109.50 232.50L110.50 232.50L111.50 231.50L112.50 233.50L113.50 232.50L114.50 232.50L115.50 231.50L117.50 233.50L118.50 232.50L119.50 231.50L120.50 232.50L121.50 232.50L122.50 231.50L123.50 233.50L124.50 231.50L125.50 233.50L126.50 232.50L127.50 233.50L128.50 232.50L129.50 231.50L130.50 232.50L131.50 232.50L132.50 232.50L133.50 232.50L134.50 231.50L135.50 232.50L136.50 233.50L138.50 233.50L139.50 232.50L140.50 231.50L141.50 232.50L142.50 233.50L143.50 232.50L144.50 232.50L145.50 232.50L146.50 232.50L147.50 232.50L148.50 232.50L149.50 232.50L150.50 232.50L151.50 232.50L152.50 231.50L153.50 232.50L154.50 233.50L155.50 232.50L156.50 232.50L157.50 231.50L159.50 231.50L160.50 232.50L161.50 232.50L162.50 232.50L163.50 232.50L164.50 231.50L165.50 232.50L166.50 231.50L167.50 233.50L168.50 232.50L169.50 232.50L170.50 233.50L171.50 233.50L172.50 232.50L173.50 231.50L174.50 233.50L175.50 232.50L176.50 232.50L177.50 231.50L178.50 232.50L180.50 232.50L181.50 231.50L182.50 231.50L183.50 232.50L184.50 232.50L185.50 233.50L186.50 232.50L187.50 232.50L188.50 232.50L189.50 232.50L190.50 232.50L191.50 232.50L192.50 232.50L193.50 232.50L194.50 232.50L195.50 232.50L196.50 233.50L197.50 232.50L198.50 233.50L199.50 232.50L201.50 233.50L202.50 232.50L203.50 231.50L204.50 232.50L205.50 233.50L206.50 233.50L207.50 232.50L208.50 233.50L209.50 233.50L210.50 232.50L211.50 233.50L212.50 232.50L213.50 231.50L214.50 232.50L215.50 232.50L216.50 232.50L217.50 231.50L218.50 232.50L219.50 233.50L220.50 232.50L222.50 231.50L223.50 231.50L224.50 233.50L225.50 233.50L226.50 231.50L227.50 232.50L228.50 232.50L229.50 233.50L230.50 232.50L231.50 232.50L232.50 233.50L233.50 232.50L234.50 232.50L235.50 232.50L236.50 232.50L237.50 232.50L238.50 231.50L239.50 232.50L240.50 232.50L241.50 231.50L243.50 231.50L244.50 232.50L245.50 233.50L246.50 232.50L247.50 231.50L248.50 233.50L249.50 233.50L250.50 232.50L251.50 232.50L252.50 232.50L253.50 232.50L254.50 232.50L255.50 232.50L256.50 232.50L257.50 232.50L258.50 232.50L259.50 232.50L260.50 232.50L261.50 231.50L262.50 232.50L264.50 232.50L265.50 232.50L266.50 233.50L267.50 232.50L268.50 232.50L269.50 232.50L270.50 231.50L271.50 232.50L272.50 232.50L273.50 232.50L274.50 232.50L275.50 233.50L276.50 232.50L277.50 232.50L278.50 232.50L279.50 231.50L280.50 231.50L281.50 232.50L282.50 233.50L283.50 232.50L285.50 231.50L286.50 232.50L287.50 232.50L288.50 232.50L289.50 233.50L290.50 232.50L291.50 233.50L292.50 232.50L293.50 232.50L294.50 232.50L295.50 232.50L296.50 233.50L297.50 232.50L298.50 232.50L299.50 231.50L300.50 232.50L301.50 231.50L302.50 232.50L303.50 232.50L304.50 231.50L306.50 233.50L307.50 232.50L308.50 232.50L309.50 232.50L310.50 231.50L311.50 232.50L312.50 232.50L313.50 231.50L314.50 232.50L315.50 232.50L316.50 232.50L317.50 232.50L318.50 232.50L319.50 232.50L320.50 232.50L321.50 233.50L322.50 232.50L323.50 232.50L324.50 232.50L325.50 231.50L327.50 232.50L328.50 232.50L329.50 232.50L330.50 232.50L331.50 232.50L332.50 231.50L333.50 232.50L334.50 232.50L335.50 231.50L336.50 233.50L337.50 232.50L338.50 233.50L339.50 232.50L340.50 231.50L341.50 233.50L342.50 232.50L343.50 232.50L344.50 233.50L345.50 231.50L346.50 232.50L348.50 231.50L349.50 233.50L350.50 232.50L351.50 232.50L352.50 232.50L353.50 232.50L354.50 232.50L355.50 231.50L356.50 233.50L357.50 232.50L358.50 232.50L359.50 232.50L360.50 233.50L361.50 233.50L362.50 233.50L363.50 231.50L364.50 232.50L365.50 233.50L366.50 232.50L367.50 233.50L369.50 232.50L370.50 233.50L371.50 231.50L372.50 232.50L373.50 233.50L374.50 231.50L375.50 232.50L376.50 233.50L377.50 232.50L378.50 232.50L379.50 232.50L380.50 232.50L381.50 232.50L382.50 233.50L383.50 232.50L384.50 232.50L385.50 232.50L386.50 231.50L387.50 233.50L388.50 232.50L390.50 232.50L391.50 232.50L392.50 231.50L393.50 232.50L394.50 232.50L395.50 232.50L396.50 232.50L397.50 232.50L398.50 231.50L399.50 232.50L400.50 232.50L401.50 233.50L402.50 232.50L403.50 232.50L404.50 232.50L405.50 232.50L406.50 232.50L407.50 232.50L408.50 232.50L409.50 231.50L411.50 232.50L412.50 232.50L413.50 232.50L414.50 233.50L415.50 232.50L416.50 231.50L417.50 233.50L418.50 232.50L419.50 232.50L420.50 232.50L421.50 233.50L422.50 233.50L423.50 232.50L424.50 232.50L425.50 232.50L426.50 232.50L427.50 233.50L428.50 232.50L429.50 232.50L430.50 231.50L432.50 232.50L433.50 232.50L434.50 232.50L435.50 232.50L436.50 232.50L437.50 231.50L438.50 231.50L439.50 232.50L440.50 232.50L441.50 232.50L442.50 231.50L443.50 232.50L444.50 233.50L445.50 231.50L446.50 232.50L447.50 232.50L448.50 232.50L449.50 232.50L450.50 232.50L451.50 232.50L453.50 232.50L454.50 231.50L455.50 233.50L456.50 232.50L457.50 232.50L458.50 231.50L459.50 232.50L460.50 232.50L461.50 232.50L462.50 232.50L463.50 232.50L464.50 233.50L465.50 232.50L466.50 232.50L467.50 232.50L468.50 232.50L469.50 232.50L470.50 232.50L471.50 231.50L472.50 232.50L474.50 232.50L475.50 233.50L476.50 232.50L477.50 232.50L478.50 233.50L479.50 231.50L480.50 233.50L481.50 232.50L482.50 232.50L483.50 232.50L484.50 231.50L485.50 232.50L486.50 232.50L487.50 232.50L488.50 233.50L489.50 232.50L490.50 232.50L491.50 232.50L492.50 233.50L493.50 232.50L495.50 232.50L496.50 232.50L497.50 233.50L498.50 232.50L499.50 231.50L500.50 232.50L501.50 232.50L502.50 232.50L503.50 232.50L504.50 232.50L505.50 232.50L506.50 231.50L507.50 232.50L508.50 232.50L509.50 233.50L510.50 231.50L511.50 233.50L512.50 232.50L513.50 232.50L514.50 233.50L516.50 233.50L517.50 231.50L518.50 231.50L519.50 231.50L520.50 232.50L521.50 232.50L522.50 233.50L523.50 232.50L524.50 232.50L525.50 233.50L526.50 232.50L527.50 232.50L528.50 233.50L529.50 232.50L530.50 232.50L531.50 232.50L532.50 232.50L533.50 232.50L534.50 232.50L535.50 232.50L537.50 232.50L538.50 232.50L539.50 232.50L540.50 232.50L541.50 233.50L542.50 232.50L543.50 233.50L544.50 232.50L545.50 232.50L546.50 232.50L547.50 233.50L548.50 232.50L549.50 233.50L550.50 232.50L551.50 231.50L552.50 231.50L553.50 231.50L554.50 231.50L555.50 232.50L556.50 232.50L558.50 233.50L559.50 232.50L560.50 232.50L561.50 233.50L562.50 232.50L563.50 232.50L564.50 232.50L565.50 232.50L566.50 232.50L567.50 232.50L568.50 233.50L569.50 232.50L570.50 232.50L571.50 232.50L572.50 232.50L573.50 233.50L574.50 232.50L575.50 232.50L576.50 233.50L577.50 232.50L579.50 231.50L580.50 232.50L581.50 232.50L582.50 232.50L583.50 232.50L584.50 231.50L585.50 232.50L586.50 232.50L587.50 232.50L588.50 232.50L589.50 233.50L590.50 232.50L591.50 231.50L592.50 231.50L593.50 232.50L594.50 232.50L595.50 232.50L596.50 232.50L597.50 232.50L598.50 233.50L600.50 232.50L601.50 232.50L602.50 232.50L603.50 232.50L604.50 232.50L605.50 231.50L606.50 232.50L607.50 232.50L608.50 231.50L609.50 232.50L610.50 232.50L611.50 232.50L612.50 232.50L613.50 232.50L614.50 232.50L615.50 231.50L616.50 231.50L617.50 233.50L618.50 233.50L619.50 231.50L621.50 232.50"/><path fill="#c000ff" d="M581 87h29v1h-29z"/><path clip-path="url(#c)" fill="none" stroke-width="1" stroke="#c000ff" d="M54.50 218.50L55.50 217.50L56.50 218.50L57.50 217.50L58.50 219.50L59.50 218.50L60.50 218.50L61.50 218.50L62.50 218.50L63.50 218.50L64.50 219.50L65.50 218.50L66.50 217.50L67.50 218.50L68.50 218.50L69.50 218.50L70.50 218.50L71.50 218.50L72.50 218.50L73.50 218.50L75.50 218.50L76.50 218.50L77.50 218.50L78.50 219.50L79.50 217.50L80.50 218.50L81.50 217.50L82.50 218.50L83.50 219.50L84.50 217.50L85.50 217.50L86.50 218.50L87.50 218.50L88.50 218.50L89.50 218.50L90.50 218.50L91.50 219.50L92.50 218.50L93.50 218.50L94.50 217.50L96.50 219.50L97.50 218.50L98.50 218.50L99.50 218.50L100.50 218.50L101.50 217.50L102.50 218.50L103.50 218.50L104.50 219.50L105.50 218.50L106.50 218.50L107.50 217.50L108.50 219.50L109.50 218.50L110.50 218.50L111.50 217.50L112.50 218.50L113.50 218.50L114.50 217.50L115.50 217.50L117.50 218.50L118.50 219.50L119.50 217.50L120.50 218.50L121.50 218.50L122.50 217.50L123.50 217.50L124.50 217.50L125.50 219.50L126.50 218.50L127.50 219.50L128.50 219.50L129.50 218.50L130.50 218.50L131.50 218.50L132.50 218.50L133.50 217.50L134.50 219.50L135.50 218.50L136.50 217.50L138.50 218.50L139.50 218.50L140.50 218.50L141.50 217.50L142.50 218.50L143.50 218.50L144.50 218.50L145.50 218.50L146.50 217.50L147.50 218.50L148.50 218.50L149.50 218.50L150.50 218.50L151.50 219.50L152.50 219.50L153.50 218.50L154.50 218.50L155.50 219.50L156.50 218.50L157.50 219.50L159.50 218.50L160.50 218.50L161.50 217.50L162.50 218.50L163.50 218.50L164.50 218.50L165.50 217.50L166.50 217.50L167.50 218.50L168.50 219.50L169.50 218.50L170.50 218.50L171.50 218.50L172.50 218.50L173.50 218.50L174.50 218.50L175.50 219.50L176.50 218.50L177.50 217.50L178.50 218.50L180.50 218.50L181.50 218.50L182.50 218.50L183.50 217.50L184.50 218.50L185.50 218.50L186.50 218.50L187.50 217.50L188.50 219.50L189.50 218.50L190.50 217.50L191.50 218.50L192.50 218.50L193.50 219.50L194.50 218.50L195.50 219.50L196.50 219.50L197.50 219.50L198.50 218.50L199.50 218.50L201.50 218.50L202.50 218.50L203.50 217.50L204.50 218.50L205.50 218.50L206.50 218.50L207.50 219.50L208.50 218.50L209.50 218.50L210.50 218.50L211.50 217.50L212.50 219.50L213.50 217.50L214.50 217.50L215.50 218.50L216.50 219.50L217.50 218.50L218.50 218.50L219.50 219.50L220.50 218.50L222.50 218.50L223.50 218.50L224.50 218.50L225.50 218.50L226.50 219.50L227.50 218.50L228.50 218.50L229.50 218.50L230.50 218.50L231.50 219.50L232.50 218.50L233.50 218.50L234.50 218.50L235.50 218.50L236.50 218.50L237.50 217.50L238.50 219.50L239.50 218.50L240.50 217.50L241.50 218.50L243.50 217.50L244.50 218.50L245.50 217.50L246.50 218.50L247.50 219.50L248.50 218.50L249.50 218.50L250.50 219.50L251.50 218.50L252.50 218.50L253.50 217.50L254.50 217.50L255.50 217.50L256.50 219.50L257.50 218.50L258.50 218.50L259.50 218.50L260.50 218.50L261.50 219.50L262.50 218.50L264.50 218.50L265.50 219.50L266.50 218.50L267.50 218.50L268.50 218.50L269.50 217.50L270.50 218.50L271.50 218.50L272.50 219.50L273.50 219.50L274.50 218.50L275.50 218.50L276.50 218.50L277.50 218.50L278.50 219.50L279.50 218.50L280.50 219.50L281.50 218.50L282.50 218.50L283.50 218.50L285.50 218.50L286.50 218.50L287.50 219.50L288.50 218.50L289.50 218.50L290.50 219.50L291.50 218.50L292.50 218.50L293.50 217.50L294.50 217.50L295.50 218.50L296.50 217.50L297.50 218.50L298.50 219.50L299.50 219.50L300.50 218.50L301.50 217.50L302.50 219.50L303.50 218.50L304.50 218.50L306.50 217.50L307.50 218.50L308.50 217.50L309.50 218.50L310.50 219.50L311.50 219.50L312.50 219.50L313.50 218.50L314.50 218.50L315.50 217.50L316.50 218.50L317.50 218.50L318.50 219.50L319.50 219.50L320.50 218.50L321.50 218.50L322.50 218.50L323.50 218.50L324.50 218.50L325.50 219.50L327.50 217.50L328.50 218.50L329.50 218.50L330.50 218.50L331.50 219.50L332.50 218.50L333.50 218.50L334.50 218.50L335.50 218.50L336.50 217.50L337.50 219.50L338.50 218.50L339.50 218.50L340.50 217.50L341.50 218.50L342.50 217.50L343.50 218.50L344.50 218.50L345.50 219.50L346.50 218.50L348.50 218.50L349.50 218.50L350.50 218.50L351.50 218.50L352.50 218.50L353.50 218.50L354.50 219.50L355.50 218.50L356.50 218.50L357.50 218.50L358.50 218.50L359.50 218.50L360.50 218.50L361.50 219.50L362.50 219.50L363.50 218.50L364.50 218.50L365.50 218.50L366.50 218.50L367.50 217.50L369.50 218.50L370.50 218.50L371.50 218.50L372.50 218.50L373.50 217.50L374.50 219.50L375.50 218.50L376.50 217.50L377.50 217.50L378.50 219.50L379.50 219.50L380.50 219.50L381.50 218.50L382.50 218.50L383.50 217.50L384.50 217.50L385.50 218.50L386.50 218.50L387.50 218.50L388.50 219.50L390.50 217.50L391.50 218.50L392.50 217.50L393.50 218.50L394.50 218.50L395.50 218.50L396.50 218.50L397.50 218.50L398.50 218.50L399.50 219.50L400.50 218.50L401.50 218.50L402.50 217.50L403.50 218.50L404.50 218.50L405.50 218.50L406.50 219.50L407.50 218.50L408.50 218.50L409.50 218.50L411.50 218.50L412.50 218.50L413.50 218.50L414.50 217.50L415.50 218.50L416.50 219.50L417.50 217.50L418.50 217.50L419.50 219.50L420.50 218.50L421.50 218.50L422.50 219.50L423.50 218.50L424.50 218.50L425.50 217.50L426.50 218.50L427.50 218.50L428.50 217.50L429.50 218.50L430.50 218.50L432.50 217.50L433.50 217.50L434.50 218.50L435.50 218.50L436.50 218.50L437.50 218.50L438.50 219.50L439.50 219.50L440.50 218.50L441.50 219.50L442.50 218.50L443.50 218.50L444.50 218.50L445.50 217.50L446.50 218.50L447.50 218.50L448.50 219.50L449.50 219.50L450.50 219.50L451.50 218.50L453.50 217.50L454.50 219.50L455.50 217.50L456.50 218.50L457.50 218.50L458.50 218.50L459.50 218.50L460.50 217.50L461.50 217.50L462.50 218.50L463.50 218.50L464.50 218.50L465.50 218.50L466.50 218.50L467.50 219.50L468.50 218.50L469.50 219.50L470.50 219.50L471.50 219.50L472.50 217.50L474.50 219.50L475.50 218.50L476.50 218.50L477.50 219.50L478.50 217.50L479.50 219.50L480.50 218.50L481.50 218.50L482.50 218.50L483.50 218.50L484.50 218.50L485.50 218.50L486.50 218.50L487.50 217.50L488.50 217.50L489.50 218.50L490.50 218.50L491.50 218.50L492.50 219.50L493.50 219.50L495.50 218.50L496.50 218.50L497.50 218.50L498.50 219.50L499.50 218.50L500.50 218.50L501.50 217.50L502.50 218.50L503.50 218.50L504.50 218.50L505.50 218.50L506.50 218.50L507.50 219.50L508.50 218.50L509.50 217.50L510.50 218.50L511.50 218.50L512.50 218.50L513.50 218.50L514.50 218.50L516.50 218.50L517.50 218.50L518.50 218.50L519.50 219.50L520.50 219.50L521.50 218.50L522.50 218.50L523.50 218.50L524.50 219.50L525.50 219.50L526.50 219.50L527.50 218.50L528.50 218.50L529.50 217.50L530.50 218.50L531.50 218.50L532.50 219.50L533.50 218.50L534.50 218.50L535.50 219.50L537.50 218.50L538.50 218.50L539.50 218.50L540.50 218.50L541.50 217.50L542.50 218.50L543.50 218.50L544.50 218.50L545.50 218.50L546.50 218.50L547.50 219.50L548.50 218.50L549.50 217.50L550.50 219.50L551.50 217.50L552.50 219.50L553.50 218.50L554.50 217.50L555.50 219.50L556.50 218.50L558.50 218.50L559.50 218.50L560.50 218.50L561.50 217.50L562.50 217.50L563.50 218.50L564.50 218.50L565.50 219.50L566.50 218.50L567.50 217.50L568.50 218.50L569.50 218.50L570.50 219.50L571.50 219.50L572.50 217.50L573.50 219.50L574.50 218.50L575.50 218.50L576.50 219.50L577.50 218.50L579.50 217.50L580.50 218.50L581.50 218.50L582.50 218.50L583.50 218.50L584.50 218.50L585.50 218.50L586.50 218.50L587.50 217.50L588.50 217.50L589.50 218.50L590.50 219.50L591.50 218.50L592.50 218.50L593.50 218.50L594.50 218.50L595.50 218.50L596.50 219.50L597.50 218.50L598.50 217.50L600.50 219.50L601.50 217.50L602.50 218.50L603.50 218.50L604.50 218.50L605.50 218.50L606.50 217.50L607.50 219.50L608.50 218.50L609.50 218.50L610.50 219.50L611.50 218.50L612.50 218.50L613.50 219.50L614.50 218.50L615.50 219.50L616.50 219.50L617.50 219.50L618.50 218.50L619.50 217.50L621.50 217.50"/><path fill="#00eeee" d="M581 100h29v1h-29z"/><path clip-path="url(#c)" fill="none" stroke-width="1" stroke="#00eeee" d="M54.50 204.50L55.50 205.50L56.50 205.50L57.50 205.50L58.50 204.50L59.50 205.50L60.50 204.50L61.50 203.50L62.50 203.50L63.50 204.50L64.50 203.50L65.50 204.50L66.50 204.50L67.50 205.50L68.50 204.50L69.50 204.50L70.50 204.50L71.50 204.50L72.50 203.50L73.50 204.50L75.50 204.50L76.50 204.50L77.50 205.50L78.50 204.50L79.50 204.50L80.50 204.50L81.50 203.50L82.50 205.50L83.50 204.50L84.50 204.50L85.50 204.50L86.50 204.50L87.50 204.50L88.50 203.50L89.50 204.50L90.50 205.50L91.50 204.50L92.50 204.50L93.50 204.50L94.50 204.50L96.50 204.50L97.50 205.50L98.50 204.50L99.50 204.50L100.50 204.50L101.50 204.50L102.50 204.50L103.50 205.50L104.50 204.50L105.50 203.50L106.50 204.50L107.50 204.50L108.50 204.50L109.50 204.50L110.50 204.50L111.50 204.50L112.50 205.50L113.50 204.50L114.50 204.50L115.50 204.50L117.50 205.50L118.50 204.50L119.50 205.50L120.50 205.50L121.50 205.50L122.50 205.50L123.50 204.50L124.50 204.50L125.50 204.50L126.50 204.50L127.50 204.50L128.50 203.50L129.50 205.50L130.50 204.50L131.50 203.50L132.50 204.50L133.50 203.50L134.50 204.50L135.50 205.50L136.50 204.50L138.50 204.50L139.50 205.50L140.50 203.50L141.50 204.50L142.50 204.50L143.50 205.50L144.50 204.50L145.50 205.50L146.50 203.50L147.50 204.50L148.50 204.50L149.50 204.50L150.50 204.50L151.50 204.50L152.50 204.50L153.50 204.50L154.50 204.50L155.50 203.50L156.50 204.50L157.50 205.50L159.50 204.50L160.50 204.50L161.50 204.50L162.50 204.50L163.50 204.50L164.50 204.50L165.50 205.50L166.50 204.50L167.50 204.50L168.50 203.50L169.50 204.50L170.50 204.50L171.50 205.50L172.50 204.50L173.50 205.50L174.50 204.50L175.50 204.50L176.50 203.50L177.50 205.50L178.50 205.50L180.50 204.50L181.50 204.50L182.50 205.50L183.50 204.50L184.50 204.50L185.50 204.50L186.50 204.50L187.50 204.50L188.50 205.50L189.50 205.50L190.50 205.50L191.50 204.50L192.50 204.50L193.50 205.50L194.50 205.50L195.50 203.50L196.50 204.50L197.50 205.50L198.50 205.50L199.50 204.50L201.50 205.50L202.50 205.50L203.50 204.50L204.50 204.50L205.50 204.50L206.50 203.50L207.50 204.50L208.50 203.50L209.50 204.50L210.50 204.50L211.50 205.50L212.50 204.50L213.50 204.50L214.50 204.50L215.50 205.50L216.50 204.50L217.50 203.50L218.50 204.50L219.50 204.50L220.50 203.50L222.50 203.50L223.50 204.50L224.50 203.50L225.50 204.50L226.50 204.50L227.50 203.50L228.50 205.50L229.50 204.50L230.50 204.50L231.50 204.50L232.50 203.50L233.50 205.50L234.50 204.50L235.50 204.50L236.50 204.50L237.50 204.50L238.50 204.50L239.50 204.50L240.50 204.50L241.50 204.50L243.50 205.50L244.50 204.50L245.50 204.50L246.50 204.50L247.50 204.50L248.50 205.50L249.50 204.50L250.50 204.50L251.50 204.50L252.50 204.50L253.50 204.50L254.50 203.50L255.50 204.50L256.50 204.50L257.50 205.50L258.50 205.50L259.50 204.50L260.50 204.50L261.50 204.50L262.50 205.50L264.50 204.50L265.50 204.50L266.50 203.50L267.50 203.50L268.50 205.50L269.50 204.50L270.50 204.50L271.50 204.50L272.50 204.50L273.50 205.50L274.50 203.50L275.50 205.50L276.50 204.50L277.50 204.50L278.50 203.50L279.50 204.50L280.50 204.50L281.50 203.50L282.50 204.50L283.50 205.50L285.50 204.50L286.50 205.50L287.50 204.50L288.50 204.50L289.50 205.50L290.50 204.50L291.50 204.50L292.50 205.50L293.50 204.50L294.50 204.50L295.50 204.50L296.50 204.50L297.50 205.50L298.50 204.50L299.50 204.50L300.50 203.50L301.50 203.50L302.50 205.50L303.50 204.50L304.50 204.50L306.50 203.50L307.50 204.50L308.50 205.50L309.50 204.50L310.50 203.50L311.50 203.50L312.50 204.50L313.50 204.50L314.50 203.50L315.50 205.50L316.50 204.50L317.50 203.50L318.50 205.50L319.50 205.50L320.50 204.50L321.50 203.50L322.50 204.50L323.50 204.50L324.50 204.50L325.50 205.50L327.50 205.50L328.50 205.50L329.50 205.50L330.50 205.50L331.50 203.50L332.50 204.50L333.50 205.50L334.50 204.50L335.50 204.50L336.50 203.50L337.50 204.50L338.50 204.50L339.50 204.50L340.50 204.50L341.50 204.50L342.50 204.50L343.50 204.50L344.50 204.50L345.50 204.50L346.50 204.50L348.50 204.50L349.50 204.50L350.50 204.50L351.50 204.50L352.50 203.50L353.50 204.50L354.50 204.50L355.50 204.50L356.50 204.50L357.50 204.50L358.50 204.50L359.50 203.50L360.50 204.50L361.50 204.50L362.50 203.50L363.50 204.50L364.50 204.50L365.50 204.50L366.50 204.50L367.50 205.50L369.50 204.50L370.50 204.50L371.50 203.50L372.50 204.50L373.50 204.50L374.50 204.50L375.50 203.50L376.50 204.50L377.50 204.50L378.50 204.50L379.50 204.50L380.50 205.50L381.50 204.50L382.50 204.50L383.50 204.50L384.50 204.50L385.50 205.50L386.50 204.50L387.50 203.50L388.50 204.50L390.50 203.50L391.50 204.50L392.50 205.50L393.50 204.50L394.50 203.50L395.50 204.50L396.50 205.50L397.50 204.50L398.50 204.50L399.50 204.50L400.50 203.50L401.50 204.50L402.50 204.50L403.50 204.50L404.50 205.50L405.50 204.50L406.50 204.50L407.50 204.50L408.50 204.50L409.50 204.50L411.50 205.50L412.50 204.50L413.50 203.50L414.50 204.50L415.50 205.50L416.50 204.50L417.50 205.50L418.50 204.50L419.50 204.50L420.50 204.50L421.50 204.50L422.50 205.50L423.50 203.50L424.50 204.50L425.50 204.50L426.50 205.50L427.50 204.50L428.50 204.50L429.50 205.50L430.50 204.50L432.50 204.50L433.50 204.50L434.50 204.50L435.50 204.50L436.50 204.50L437.50 203.50L438.50 204.50L439.50 204.50L440.50 204.50L441.50 204.50L442.50 205.50L443.50 205.50L444.50 205.50L445.50 203.50L446.50 203.50L447.50 205.50L448.50 203.50L449.50 204.50L450.50 204.50L451.50 204.50L453.50 203.50L454.50 204.50L455.50 204.50L456.50 205.50L457.50 204.50L458.50 204.50L459.50 203.50L460.50 203.50L461.50 203.50L462.50 205.50L463.50 204.50L464.50 205.50L465.50 204.50L466.50 204.50L467.50 204.50L468.50 204.50L469.50 205.50L470.50 205.50L471.50 205.50L472.50 204.50L474.50 204.50L475.50 204.50L476.50 204.50L477.50 204.50L478.50 204.50L479.50 204.50L480.50 203.50L481.50 205.50L482.50 204.50L483.50 204.50L484.50 205.50L485.50 204.50L486.50 204.50L487.50 204.50L488.50 203.50L489.50 203.50L490.50 204.50L491.50 204.50L492.50 203.50L493.50 205.50L495.50 205.50L496.50 204.50L497.50 204.50L498.50 204.50L499.50 204.50L500.50 204.50L501.50 204.50L502.50 205.50L503.50 204.50L504.50 204.50L505.50 204.50L506.50 205.50L507.50 204.50L508.50 204.50L509.50 204.50L510.50 204.50L511.50 204.50L512.50 204.50L513.50 204.50L514.50 204.50L515.50 196.50L516.50 204.50L516.50 205.50L517.50 204.50L518.50 204.50L519.50 204.50L520.50 204.50L521.50 204.50L522.50 203.50L523.50 205.50L524.50 203.50L525.50 203.50L526.50 204.50L527.50 205.50L528.50 204.50L529.50 204.50L530.50 204.50L531.50 204.50L532.50 204.50L533.50 204.50L534.50 204.50L535.50 203.50L537.50 204.50L538.50 203.50L539.50 205.50L540.50 204.50L541.50 204.50L542.50 204.50L543.50 205.50L544.50 204.50L545.50 205.50L546.50 204.50L547.50 204.50L548.50 203.50L549.50 205.50L550.50 204.50L551.50 205.50L552.50 204.50L553.50 204.50L554.50 204.50L555.50 204.50L556.50 204.50L558.50 204.50L559.50 204.50L560.50 204.50L561.50 203.50L562.50 203.50L563.50 204.50L564.50 204.50L565.50 204.50L566.50 205.50L567.50 203.50L568.50 204.50L569.50 204.50L570.50 203.50L571.50 204.50L572.50 204.50L573.50 205.50L574.50 203.50L575.50 203.50L576.50 205.50L577.50 203.50L579.50 203.50L580.50 205.50L581.50 204.50L582.50 205.50L583.50 205.50L584.50 204.50L585.50 203.50L586.50 205.50L587.50 204.50L588.50 204.50L589.50 203.50L590.50 205.50L591.50 205.50L592.50 203.50L593.50 204.50L594.50 204.50L595.50 204.50L596.50 205.50L597.50 205.50L598.50 204.50L600.50 204.50L601.50 204.50L602.50 204.50L603.50 204.50L604.50 203.50L605.50 204.50L606.50 203.50L607.50 203.50L608.50 204.50L609.50 204.50L610.50 204.50L611.50 205.50L612.50 204.50L613.50 204.50L614.50 203.50L615.50 203.50L616.50 203.50L617.50 204.50L618.50 205.50L619.50 204.50L621.50 205.50"/><path fill="#c04000" d="M581 113h29v1h-29z"/><path clip-path="url(#c)" fill="none" stroke-width="1" stroke="#c04000" d="M54.50 287.50L55.50 288.50L56.50 287.50L57.50 288.50L58.50 287.50L59.50 287.50L60.50 286.50L61.50 287.50L62.50 288.50L63.50 287.50L64.50 287.50L65.50 287.50L66.50 288.50L67.50 286.50L68.50 287.50L69.50 287.50L70.50 288.50L71.50 288.50L72.50 287.50L73.50 286.50L75.50 286.50L76.50 287.50L77.50 287.50L78.50 288.50L79.50 287.50L80.50 288.50L81.50 286.50L82.50 286.50L83.50 287.50L84.50 287.50L85.50 287.50L86.50 288.50L87.50 286.50L88.50 287.50L89.50 286.50L90.50 287.50L91.50 287.50L92.50 287.50L93.50 287.50L94.50 288.50L96.50 287.50L97.50 287.50L98.50 286.50L99.50 287.50L100.50 286.50L101.50 286.50L102.50 287.50L103.50 286.50L104.50 286.50L105.50 287.50L106.50 286.50L107.50 287.50L108.50 288.50L109.50 286.50L110.50 286.50L111.50 288.50L112.50 286.50L113.50 286.50L114.50 287.50L115.50 287.50L117.50 288.50L118.50 287.50L119.50 286.50L120.50 288.50L121.50 287.50L122.50 287.50L123.50 288.50L124.50 287.50L125.50 287.50L126.50 287.50L127.50 287.50L128.50 288.50L129.50 287.50L130.50 287.50L131.50 286.50L132.50 287.50L133.50 287.50L134.50 288.50L135.50 287.50L136.50 287.50L138.50 287.50L139.50 287.50L140.50 287.50L141.50 287.50L142.50 287.50L143.50 287.50L144.50 287.50L145.50 287.50L146.50 287.50L147.50 286.50L148.50 287.50L149.50 287.50L150.50 287.50L151.50 288.50L152.50 287.50L153.50 288.50L154.50 287.50L155.50 286.50L156.50 286.50L157.50 287.50L159.50 287.50L160.50 287.50L161.50 287.50L162.50 287.50L163.50 287.50L164.50 286.50L165.50 288.50L166.50 286.50L167.50 288.50L168.50 287.50L169.50 287.50L170.50 287.50L171.50 287.50L172.50 288.50L173.50 287.50L174.50 286.50L175.50 287.50L176.50 286.50L177.50 287.50L178.50 287.50L180.50 287.50L181.50 287.50L182.50 287.50L183.50 286.50L184.50 287.50L185.50 287.50L186.50 288.50L187.50 288.50L188.50 287.50L189.50 287.50L190.50 286.50L191.50 287.50L192.50 288.50L193.50 286.50L194.50 287.50L195.50 287.50L196.50 288.50L197.50 287.50L198.50 287.50L199.50 287.50L201.50 288.50L202.50 287.50L203.50 287.50L204.50 288.50L205.50 288.50L206.50 287.50L207.50 287.50L208.50 287.50L209.50 287.50L210.50 286.50L211.50 287.50L212.50 287.50L213.50 286.50L214.50 287.50L215.50 286.50L216.50 287.50L217.50 287.50L218.50 288.50L219.50 288.50L220.50 286.50L222.50 288.50L223.50 287.50L224.50 288.50L225.50 287.50L226.50 288.50L227.50 288.50L228.50 287.50L229.50 287.50L230.50 287.50L231.50 287.50L232.50 288.50L233.50 288.50L234.50 287.50L235.50 288.50L236.50 287.50L237.50 287.50L238.50 286.50L239.50 287.50L240.50 287.50L241.50 287.50L243.50 287.50L244.50 287.50L245.50 288.50L246.50 288.50L247.50 287.50L248.50 288.50L249.50 287.50L250.50 287.50L251.50 288.50L252.50 287.50L253.50 287.50L254.50 287.50L255.50 286.50L256.50 288.50L257.50 288.50L258.50 286.50L259.50 286.50L260.50 287.50L261.50 288.50L262.50 287.50L264.50 287.50L265.50 287.50L266.50 286.50L267.50 287.50L268.50 286.50L269.50 288.50L270.50 287.50L271.50 287.50L272.50 287.50L273.50 288.50L274.50 287.50L275.50 286.50L276.50 286.50L277.50 286.50L278.50 287.50L279.50 286.50L280.50 287.50L281.50 287.50L282.50 288.50L283.50 286.50L285.50 287.50L286.50 287.50L287.50 287.50L288.50 286.50L289.50 287.50L290.50 287.50L291.50 287.50L292.50 287.50L293.50 287.50L294.50 286.50L295.50 287.50L296.50 286.50L297.50 288.50L298.50 287.50L299.50 286.50L300.50 287.50L301.50 287.50L302.50 287.50L303.50 287.50L304.50 287.50L306.50 286.50L307.50 288.50L308.50 288.50L309.50 287.50L310.50 287.50L311.50 287.50L312.50 288.50L313.50 287.50L314.50 287.50L315.50 287.50L316.50 286.50L317.50 287.50L318.50 288.50L319.50 287.50L320.50 288.50L321.50 287.50L322.50 286.50L323.50 288.50L324.50 288.50L325.50 286.50L327.50 287.50L328.50 287.50L329.50 287.50L330.50 286.50L331.50 286.50L332.50 286.50L333.50 287.50L334.50 288.50L335.50 287.50L336.50 287.50L337.50 287.50L338.50 287.50L339.50 288.50L340.50 287.50L341.50 287.50L342.50 288.50L343.50 287.50L344.50 287.50L345.50 286.50L346.50 287.50L348.50 288.50L349.50 286.50L350.50 288.50L351.50 286.50L352.50 287.50L353.50 288.50L354.50 286.50L355.50 287.50L356.50 287.50L357.50 288.50L358.50 287.50L359.50 287.50L360.50 287.50L361.50 287.50L362.50 287.50L363.50 287.50L364.50 288.50L365.50 287.50L366.50 286.50L367.50 288.50L369.50 287.50L370.50 288.50L371.50 287.50L372.50 287.50L373.50 286.50L374.50 288.50L375.50 287.50L376.50 287.50L377.50 288.50L378.50 288.50L379.50 286.50L380.50 288.50L381.50 287.50L382.50 287.50L383.50 288.50L384.50 287.50L385.50 287.50L386.50 286.50L387.50 287.50L388.50 286.50L390.50 287.50L391.50 287.50L392.50 287.50L393.50 286.50L394.50 288.50L395.50 287.50L396.50 287.50L397.50 287.50L398.50 286.50L399.50 287.50L400.50 286.50L401.50 287.50L402.50 286.50L403.50 287.50L404.50 287.50L405.50 287.50L406.50 287.50L407.50 287.50L408.50 288.50L409.50 286.50L411.50 287.50L412.50 287.50L413.50 287.50L414.50 286.50L415.50 286.50L416.50 288.50L417.50 287.50L418.50 287.50L419.50 286.50L420.50 287.50L421.50 287.50L422.50 287.50L423.50 287.50L424.50 287.50L425.50 288.50L426.50 287.50L427.50 287.50L428.50 287.50L429.50 287.50L430.50 287.50L432.50 287.50L433.50 287.50L434.50 287.50L435.50 287.50L436.50 286.50L437.50 287.50L438.50 287.50L439.50 287.50L440.50 287.50L441.50 287.50L442.50 287.50L443.50 288.50L444.50 287.50L445.50 286.50L446.50 286.50L447.50 287.50L448.50 288.50L449.50 286.50L450.50 288.50L451.50 287.50L453.50 287.50L454.50 286.50L455.50 288.50L456.50 288.50L457.50 287.50L458.50 287.50L459.50 286.50L460.50 287.50L461.50 287.50L462.50 287.50L463.50 287.50L464.50 286.50L465.50 288.50L466.50 287.50L467.50 286.50L468.50 286.50L469.50 286.50L470.50 286.50L471.50 288.50L472.50 287.50L474.50 288.50L475.50 288.50L476.50 288.50L477.50 287.50L478.50 286.50L479.50 287.50L480.50 288.50L481.50 288.50L482.50 287.50L483.50 287.50L484.50 288.50L485.50 288.50L486.50 286.50L487.50 287.50L488.50 288.50L489.50 287.50L490.50 287.50L491.50 286.50L492.50 287.50L493.50 288.50L495.50 287.50L496.50 286.50L497.50 288.50L498.50 287.50L499.50 288.50L500.50 287.50L501.50 287.50L502.50 287.50L503.50 287.50L504.50 287.50L505.50 287.50L506.50 286.50L507.50 288.50L508.50 288.50L509.50 287.50L510.50 287.50L511.50 287.50L512.50 287.50L513.50 287.50L514.50 287.50L516.50 288.50L517.50 287.50L518.50 286.50L519.50 286.50L520.50 287.50L521.50 286.50L522.50 287.50L523.50 288.50L524.50 286.50L525.50 286.50L526.50 287.50L527.50 286.50L528.50 287.50L529.50 286.50L530.50 287.50L531.50 287.50L532.50 288.50L533.50 287.50L534.50 287.50L535.50 288.50L537.50 286.50L538.50 287.50L539.50 288.50L540.50 287.50L541.50 287.50L542.50 288.50L543.50 287.50L544.50 287.50L545.50 287.50L546.50 286.50L547.50 286.50L548.50 286.50L549.50 287.50L550.50 287.50L551.50 287.50L552.50 286.50L553.50 288.50L554.50 287.50L555.50 286.50L556.50 287.50L558.50 287.50L559.50 288.50L560.50 288.50L561.50 288.50L562.50 287.50L563.50 287.50L564.50 287.50L565.50 286.50L566.50 286.50L567.50 288.50L568.50 287.50L569.50 286.50L570.50 287.50L571.50 286.50L572.50 287.50L573.50 287.50L574.50 287.50L575.50 287.50L576.50 286.50L577.50 288.50L579.50 287.50L580.50 286.50L581.50 286.50L582.50 287.50L583.50 287.50L584.50 286.50L585.50 286.50L586.50 287.50L587.50 288.50L588.50 286.50L589.50 287.50L590.50 288.50L591.50 288.50L592.50 286.50L593.50 286.50L594.50 287.50L595.50 287.50L596.50 288.50L597.50 287.50L598.50 286.50L600.50 287.50L601.50 287.50L602.50 287.50L603.50 287.50L604.50 287.50L605.50 287.50L606.50 287.50L607.50 286.50L608.50 287.50L609.50 287.50L610.50 287.50L611.50 287.50L612.50 287.50L613.50 287.50L614.50 288.50L615.50 287.50L616.50 287.50L617.50 287.50L618.50 287.50L619.50 288.50L621.50 287.50"/><path fill="#eeee00" d="M581 126h29v1h-29z"/><path clip-path="url(#c)" fill="none" stroke-width="1" stroke="#eeee00" d="M54.50 273.50L55.50 273.50L56.50 273.50L57.50 272.50L58.50 274.50L59.50 273.50L60.50 273.50L61.50 273.50L62.50 272.50L63.50 274.50L64.50 273.50L65.50 273.50L66.50 273.50L67.50 273.50L68.50 273.50L69.50 273.50L70.50 273.50L71.50 274.50L72.50 273.50L73.50 272.50L75.50 273.50L76.50 273.50L77.50 274.50L78.50 273.50L79.50 272.50L80.50 273.50L81.50 273.50L82.50 273.50L83.50 273.50L84.50 274.50L85.50 272.50L86.50 273.50L87.50 274.50L88.50 273.50L89.50 273.50L90.50 273.50L91.50 273.50L92.50 273.50L93.50 273.50L94.50 273.50L96.50 273.50L97.50 274.50L98.50 273.50L99.50 273.50L100.50 273.50L101.50 273.50L102.50 273.50L103.50 273.50L104.50 273.50L105.50 273.50L106.50 273.50L107.50 273.50L108.50 274.50L109.50 273.50L110.50 273.50L111.50 273.50L112.50 274.50L113.50 273.50L114.50 272.50L115.50 273.50L117.50 274.50L118.50 274.50L119.50 273.50L120.50 273.50L121.50 273.50L122.50 273.50L123.50 272.50L124.50 273.50L125.50 272.50L126.50 273.50L127.50 274.50L128.50 273.50L129.50 272.50L130.50 274.50L131.50 273.50L132.50 273.50L133.50 273.50L134.50 273.50L135.50 274.50L136.50 273.50L138.50 274.50L139.50 273.50L140.50 273.50L141.50 273.50L142.50 273.50L143.50 272.50L144.50 273.50L145.50 273.50L146.50 273.50L147.50 273.50L148.50 274.50L149.50 273.50L150.50 273.50L151.50 273.50L152.50 272.50L153.50 273.50L154.50 273.50L155.50 273.50L156.50 274.50L157.50 273.50L159.50 273.50L160.50 273.50L161.50 274.50L162.50 272.50L163.50 274.50L164.50 267.50L165.50 274.50L164.50 273.50L165.50 274.50L166.50 273.50L167.50 274.50L168.50 273.50L169.50 273.50L170.50 273.50L171.50 273.50L172.50 273.50L173.50 273.50L174.50 273.50L175.50 273.50L176.50 274.50L177.50 273.50L178.50 273.50L180.50 272.50L181.50 273.50L182.50 273.50L183.50 273.50L184.50 274.50L185.50 272.50L186.50 273.50L187.50 273.50L188.50 273.50L189.50 273.50L190.50 273.50L191.50 272.50L192.50 272.50L193.50 273.50L194.50 273.50L195.50 272.50L196.50 273.50L197.50 273.50L198.50 273.50L199.50 273.50L201.50 273.50L202.50 273.50L203.50 273.50L204.50 274.50L205.50 273.50L206.50 274.50L207.50 274.50L208.50 273.50L209.50 274.50L210.50 273.50L211.50 272.50L212.50 273.50L213.50 272.50L214.50 272.50L215.50 272.50L216.50 274.50L217.50 273.50L218.50 273.50L219.50 274.50L220.50 274.50L222.50 274.50L223.50 273.50L224.50 274.50L225.50 274.50L226.50 272.50L227.50 273.50L228.50 273.50L229.50 273.50L230.50 273.50L231.50 272.50L232.50 274.50L233.50 273.50L234.50 272.50L235.50 273.50L236.50 273.50L237.50 273.50L238.50 273.50L239.50 273.50L240.50 274.50L241.50 273.50L243.50 272.50L244.50 273.50L245.50 273.50L246.50 274.50L247.50 272.50L248.50 273.50L249.50 274.50L250.50 272.50L251.50 272.50L252.50 273.50L253.50 274.50L254.50 273.50L255.50 273.50L256.50 274.50L257.50 273.50L258.50 273.50L259.50 273.50L260.50 273.50L261.50 273.50L262.50 273.50L264.50 273.50L265.50 274.50L266.50 273.50L267.50 273.50L268.50 274.50L269.50 274.50L270.50 274.50L271.50 274.50L272.50 272.50L273.50 273.50L274.50 273.50L275.50 273.50L276.50 273.50L277.50 273.50L278.50 272.50L279.50 274.50L280.50 273.50L281.50 273.50L282.50 273.50L283.50 273.50L285.50 273.50L286.50 272.50L287.50 273.50L288.50 273.50L289.50 273.50L290.50 273.50L291.50 273.50L292.50 273.50L293.50 273.50L294.50 273.50L295.50 273.50L296.50 272.50L297.50 273.50L298.50 273.50L299.50 273.50L300.50 273.50L301.50 273.50L302.50 272.50L303.50 272.50L304.50 273.50L306.50 273.50L307.50 273.50L308.50 274.50L309.50 273.50L310.50 273.50L311.50 274.50L312.50 273.50L313.50 273.50L314.50 274.50L315.50 272.50L316.50 272.50L317.50 272.50L318.50 273.50L319.50 273.50L320.50 272.50L321.50 272.50L322.50 272.50L323.50 272.50L324.50 273.50L325.50 272.50L327.50 272.50L328.50 273.50L329.50 274.50L330.50 274.50L331.50 273.50L332.50 274.50L333.50 272.50L334.50 274.50L335.50 273.50L336.50 274.50L337.50 273.50L338.50 274.50L339.50 274.50L340.50 274.50L341.50 273.50L342.50 273.50L343.50 273.50L344.50 273.50L345.50 274.50L346.50 274.50L348.50 272.50L349.50 273.50L350.50 272.50L351.50 273.50L352.50 274.50L353.50 273.50L354.50 273.50L355.50 273.50L356.50 273.50L357.50 274.50L358.50 273.50L359.50 273.50L360.50 272.50L361.50 273.50L362.50 273.50L363.50 273.50L364.50 273.50L365.50 273.50L366.50 274.50L367.50 273.50L369.50 273.50L370.50 273.50L371.50 274.50L372.50 273.50L373.50 274.50L374.50 273.50L375.50 273.50L376.50 273.50L377.50 272.50L378.50 272.50L379.50 273.50L380.50 273.50L381.50 273.50L382.50 273.50L383.50 273.50L384.50 273.50L385.50 274.50L386.50 272.50L387.50 272.50L388.50 273.50L390.50 272.50L391.50 273.50L392.50 274.50L393.50 273.50L394.50 273.50L395.50 272.50L396.50 273.50L397.50 272.50L398.50 273.50L399.50 273.50L400.50 273.50L401.50 274.50L402.50 273.50L403.50 272.50L404.50 273.50L405.50 272.50L406.50 274.50L407.50 273.50L408.50 273.50L409.50 273.50L411.50 273.50L412.50 272.50L413.50 273.50L414.50 272.50L415.50 273.50L416.50 273.50L417.50 273.50L418.50 272.50L419.50 273.50L420.50 273.50L421.50 273.50L422.50 273.50L423.50 273.50L424.50 272.50L425.50 273.50L426.50 272.50L427.50 273.50L428.50 273.50L429.50 273.50L430.50 273.50L432.50 273.50L433.50 273.50L434.50 273.50L435.50 274.50L436.50 273.50L437.50 274.50L438.50 273.50L439.50 273.50L440.50 272.50L441.50 273.50L442.50 273.50L443.50 274.50L444.50 274.50L445.50 273.50L446.50 273.50L447.50 272.50L448.50 274.50L449.50 274.50L450.50 273.50L451.50 273.50L453.50 273.50L454.50 272.50L455.50 272.50L456.50 273.50L457.50 274.50L458.50 273.50L459.50 272.50L460.50 273.50L461.50 272.50L462.50 273.50L463.50 273.50L464.50 273.50L465.50 273.50L466.50 274.50L467.50 273.50L468.50 272.50L469.50 274.50L470.50 273.50L471.50 273.50L472.50 272.50L474.50 273.50L475.50 273.50L476.50 274.50L477.50 274.50L478.50 273.50L479.50 274.50L480.50 273.50L481.50 273.50L482.50 273.50L483.50 273.50L484.50 273.50L485.50 274.50L486.50 273.50L487.50 273.50L488.50 273.50L489.50 273.50L490.50 273.50L491.50 274.50L492.50 273.50L493.50 274.50L495.50 273.50L496.50 273.50L497.50 273.50L498.50 272.50L499.50 274.50L500.50 273.50L501.50 274.50L502.50 273.50L503.50 273.50L504.50 274.50L505.50 274.50L506.50 274.50L507.50 273.50L508.50 274.50L509.50 273.50L510.50 272.50L511.50 273.50L512.50 272.50L513.50 274.50L514.50 272.50L516.50 273.50L517.50 273.50L518.50 273.50L519.50 272.50L520.50 272.50L521.50 274.50L522.50 273.50L523.50 273.50L524.50 273.50L525.50 274.50L526.50 273.50L527.50 273.50L528.50 272.50L529.50 273.50L530.50 273.50L531.50 273.50L532.50 273.50L533.50 273.50L534.50 274.50L535.50 273.50L537.50 272.50L538.50 274.50L539.50 272.50L540.50 273.50L541.50 273.50L542.50 273.50L543.50 273.50L544.50 272.50L545.50 274.50L546.50 273.50L547.50 273.50L548.50 272.50L549.50 273.50L550.50 274.50L551.50 272.50L552.50 273.50L553.50 272.50L554.50 274.50L555.50 274.50L556.50 273.50L558.50 272.50L559.50 273.50L560.50 273.50L561.50 273.50L562.50 273.50L563.50 273.50L564.50 273.50L565.50 272.50L566.50 273.50L567.50 274.50L568.50 273.50L569.50 272.50L570.50 273.50L571.50 273.50L572.50 273.50L573.50 273.50L574.50 273.50L575.50 273.50L576.50 272.50L577.50 273.50L579.50 273.50L580.50 273.50L581.50 273.50L582.50 274.50L583.50 273.50L584.50 273.50L585.50 273.50L586.50 274.50L587.50 273.50L588.50 274.50L589.50 274.50L590.50 272.50L591.50 273.50L592.50 272.50L593.50 273.50L594.50 273.50L595.50 274.50L596.50 273.50L597.50 273.50L598.50 272.50L600.50 273.50L601.50 273.50L602.50 272.50L603.50 273.50L604.50 273.50L605.50 273.50L606.50 273.50L607.50 273.50L608.50 273.50L609.50 273.50L610.50 272.50L611.50 273.50L612.50 274.50L613.50 273.50L614.50 273.50L615.50 273.50L616.50 273.50L617.50 274.50L618.50 273.50L619.50 273.50L621.50 273.50"/><path fill="#2020c0" d="M581 139h29v1h-29z"/><path clip-path="url(#c)" fill="none" stroke-width="1" stroke="#2020c0" d="M54.50 258.50L55.50 259.50L56.50 258.50L57.50 259.50L58.50 259.50L59.50 259.50L60.50 259.50L61.50 259.50L62.50 260.50L63.50 259.50L64.50 259.50L65.50 259.50L66.50 260.50L67.50 259.50L68.50 259.50L69.50 259.50L70.50 259.50L71.50 258.50L72.50 260.50L73.50 259.50L75.50 259.50L76.50 260.50L77.50 260.50L78.50 259.50L79.50 259.50L80.50 260.50L81.50 260.50L82.50 259.50L83.50 259.50L84.50 259.50L85.50 260.50L86.50 258.50L87.50 259.50L88.50 258.50L89.50 259.50L90.50 260.50L91.50 260.50L92.50 259.50L93.50 259.50L94.50 259.50L96.50 258.50L97.50 259.50L98.50 259.50L99.50 259.50L100.50 259.50L101.50 258.50L102.50 259.50L103.50 259.50L104.50 259.50L105.50 258.50L106.50 260.50L107.50 260.50L108.50 259.50L109.50 260.50L110.50 259.50L111.50 260.50L112.50 259.50L113.50 259.50L114.50 259.50L115.50 259.50L117.50 259.50L118.50 259.50L119.50 259.50L120.50 259.50L121.50 259.50L122.50 258.50L123.50 260.50L124.50 259.50L125.50 258.50L126.50 260.50L127.50 259.50L128.50 259.50L129.50 259.50L130.50 258.50L131.50 260.50L132.50 258.50L133.50 259.50L134.50 259.50L135.50 259.50L136.50 258.50L138.50 260.50L139.50 259.50L140.50 260.50L141.50 259.50L142.50 259.50L143.50 260.50L144.50 259.50L145.50 259.50L146.50 258.50L147.50 260.50L148.50 259.50L149.50 260.50L150.50 259.50L151.50 260.50L152.50 259.50L153.50 259.50L154.50 260.50L155.50 259.50L156.50 258.50L157.50 259.50L159.50 258.50L160.50 259.50L161.50 260.50L162.50 259.50L163.50 259.50L164.50 260.50L165.50 260.50L166.50 259.50L167.50 259.50L168.50 259.50L169.50 259.50L170.50 260.50L171.50 260.50L172.50 259.50L173.50 259.50L174.50 258.50L175.50 259.50L176.50 258.50L177.50 259.50L178.50 259.50L180.50 259.50L181.50 260.50L182.50 259.50L183.50 259.50L184.50 259.50L185.50 258.50L186.50 259.50L187.50 259.50L188.50 260.50L189.50 260.50L190.50 259.50L191.50 260.50L192.50 259.50L193.50 258.50L194.50 258.50L195.50 260.50L196.50 259.50L197.50 259.50L198.50 258.50L199.50 259.50L201.50 260.50L202.50 259.50L203.50 259.50L204.50 260.50L205.50 259.50L206.50 260.50L207.50 260.50L208.50 259.50L209.50 259.50L210.50 259.50L211.50 260.50L212.50 259.50L213.50 258.50L214.50 259.50L215.50 259.50L216.50 259.50L217.50 260.50L218.50 258.50L219.50 260.50L220.50 258.50L222.50 259.50L223.50 259.50L224.50 259.50L225.50 260.50L226.50 259.50L227.50 259.50L228.50 259.50L229.50 260.50L230.50 259.50L231.50 259.50L232.50 259.50L233.50 258.50L234.50 258.50L235.50 259.50L236.50 259.50L237.50 259.50L238.50 260.50L239.50 258.50L240.50 259.50L241.50 258.50L243.50 258.50L244.50 258.50L245.50 259.50L246.50 259.50L247.50 259.50L248.50 259.50L249.50 259.50L250.50 259.50L251.50 259.50L252.50 259.50L253.50 259.50L254.50 260.50L255.50 259.50L256.50 258.50L257.50 260.50L258.50 259.50L259.50 259.50L260.50 259.50L261.50 259.50L262.50 259.50L264.50 258.50L265.50 260.50L266.50 259.50L267.50 259.50L268.50 258.50L269.50 260.50L270.50 259.50L271.50 259.50L272.50 259.50L273.50 259.50L274.50 259.50L275.50 259.50L276.50 259.50L277.50 259.50L278.50 259.50L279.50 259.50L280.50 259.50L281.50 258.50L282.50 259.50L283.50 259.50L285.50 259.50L286.50 259.50L287.50 258.50L288.50 259.50L289.50 260.50L290.50 259.50L291.50 259.50L292.50 259.50L293.50 259.50L294.50 259.50L295.50 260.50L296.50 260.50L297.50 259.50L298.50 259.50L299.50 259.50L300.50 259.50L301.50 258.50L302.50 259.50L303.50 258.50L304.50 259.50L306.50 259.50L307.50 259.50L308.50 259.50L309.50 259.50L310.50 259.50L311.50 259.50L312.50 258.50L313.50 258.50L314.50 259.50L315.50 259.50L316.50 259.50L317.50 260.50L318.50 259.50L319.50 259.50L320.50 259.50L321.50 260.50L322.50 259.50L323.50 258.50L324.50 260.50L325.50 259.50L327.50 259.50L328.50 260.50L329.50 259.50L330.50 258.50L331.50 258.50L332.50 258.50L333.50 259.50L334.50 259.50L335.50 260.50L336.50 259.50L337.50 259.50L338.50 259.50L339.50 259.50L340.50 260.50L341.50 259.50L342.50 259.50L343.50 259.50L344.50 260.50L345.50 259.50L346.50 259.50L348.50 260.50L349.50 258.50L350.50 259.50L351.50 258.50L352.50 258.50L353.50 260.50L354.50 259.50L355.50 260.50L356.50 258.50L357.50 258.50L358.50 259.50L359.50 260.50L360.50 260.50L361.50 258.50L362.50 259.50L363.50 260.50L364.50 259.50L365.50 259.50L366.50 259.50L367.50 259.50L369.50 259.50L370.50 259.50L371.50 259.50L372.50 260.50L373.50 259.50L374.50 260.50L375.50 259.50L376.50 259.50L377.50 259.50L378.50 259.50L379.50 260.50L380.50 259.50L381.50 258.50L382.50 258.50L383.50 259.50L384.50 258.50L385.50 258.50L386.50 258.50L387.50 260.50L388.50 259.50L390.50 259.50L391.50 260.50L392.50 259.50L393.50 258.50L394.50 259.50L395.50 259.50L396.50 260.50L397.50 259.50L398.50 259.50L399.50 260.50L400.50 258.50L401.50 259.50L402.50 259.50L403.50 259.50L404.50 258.50L405.50 258.50L406.50 259.50L407.50 260.50L408.50 259.50L409.50 259.50L411.50 259.50L412.50 259.50L413.50 259.50L414.50 259.50L415.50 259.50L416.50 259.50L417.50 258.50L418.50 260.50L419.50 258.50L420.50 259.50L421.50 259.50L422.50 260.50L423.50 259.50L424.50 259.50L425.50 259.50L426.50 259.50L427.50 259.50L428.50 259.50L429.50 260.50L430.50 258.50L432.50 260.50L433.50 259.50L434.50 259.50L435.50 259.50L436.50 258.50L437.50 258.50L438.50 258.50L439.50 260.50L440.50 260.50L441.50 259.50L442.50 258.50L443.50 258.50L444.50 259.50L445.50 259.50L446.50 260.50L447.50 259.50L448.50 258.50L449.50 258.50L450.50 259.50L451.50 259.50L453.50 260.50L454.50 259.50L455.50 260.50L456.50 259.50L457.50 259.50L458.50 259.50L459.50 259.50L460.50 258.50L461.50 260.50L462.50 259.50L463.50 259.50L464.50 259.50L465.50 260.50L466.50 259.50L467.50 259.50L468.50 259.50L469.50 259.50L470.50 260.50L471.50 259.50L472.50 259.50L474.50 260.50L475.50 260.50L476.50 259.50L477.50 259.50L478.50 259.50L479.50 258.50L480.50 258.50L481.50 259.50L482.50 258.50L483.50 259.50L484.50 260.50L485.50 259.50L486.50 259.50L487.50 259.50L488.50 259.50L489.50 260.50L490.50 259.50L491.50 259.50L492.50 260.50L493.50 259.50L495.50 259.50L496.50 259.50L497.50 259.50L498.50 259.50L499.50 259.50L500.50 259.50L501.50 258.50L502.50 260.50L503.50 259.50L504.50 259.50L505.50 260.50L506.50 258.50L507.50 259.50L508.50 258.50L509.50 259.50L510.50 259.50L511.50 259.50L512.50 260.50L513.50 259.50L514.50 258.50L516.50 259.50L517.50 259.50L518.50 258.50L519.50 258.50L520.50 259.50L521.50 258.50L522.50 259.50L523.50 259.50L524.50 258.50L525.50 260.50L526.50 260.50L527.50 259.50L528.50 259.50L529.50 259.50L530.50 259.50L531.50 259.50L532.50 259.50L533.50 258.50L534.50 259.50L535.50 260.50L537.50 259.50L538.50 260.50L539.50 258.50L540.50 258.50L541.50 260.50L542.50 259.50L543.50 258.50L544.50 259.50L545.50 259.50L546.50 260.50L547.50 259.50L548.50 259.50L549.50 259.50L550.50 260.50L551.50 260.50L552.50 259.50L553.50 259.50L554.50 259.50L555.50 259.50L556.50 259.50L558.50 259.50L559.50 258.50L560.50 259.50L561.50 258.50L562.50 259.50L563.50 259.50L564.50 259.50L565.50 259.50L566.50 259.50L567.50 259.50L568.50 259.50L569.50 259.50L570.50 260.50L571.50 258.50L572.50 259.50L573.50 260.50L574.50 259.50L575.50 260.50L576.50 258.50L577.50 259.50L579.50 258.50L580.50 259.50L581.50 258.50L582.50 259.50L583.50 260.50L584.50 260.50L585.50 258.50L586.50 259.50L587.50 259.50L588.50 260.50L589.50 259.50L590.50 259.50L591.50 259.50L592.50 259.50L593.50 258.50L594.50 259.50L595.50 259.50L596.50 260.50L597.50 259.50L598.50 258.50L600.50 259.50L601.50 258.50L602.50 259.50L603.50 258.50L604.50 259.50L605.50 260.50L606.50 259.50L607.50 259.50L608.50 260.50L609.50 258.50L610.50 258.50L611.50 258.50L612.50 259.50L613.50 259.50L614.50 259.50L615.50 259.50L616.50 259.50L617.50 259.50L618.50 259.50L619.50 259.50L621.50 259.50"/><path fill="#ffc020" d="M581 152h29v1h-29z"/><path clip-path="url(#c)" fill="none" stroke-width="1" stroke="#ffc020" d="M54.50 245.50L55.50 245.50L56.50 245.50L57.50 246.50L58.50 246.50L59.50 245.50L60.50 244.50L61.50 244.50L62.50 246.50L63.50 245.50L64.50 245.50L65.50 244.50L66.50 245.50L67.50 246.50L68.50 246.50L69.50 244.50L70.50 246.50L71.50 244.50L72.50 244.50L73.50 245.50L75.50 244.50L76.50 245.50L77.50 245.50L78.50 245.50L79.50 244.50L80.50 246.50L81.50 245.50L82.50 245.50L83.50 246.50L84.50 245.50L85.50 245.50L86.50 244.50L87.50 245.50L88.50 246.50L89.50 244.50L90.50 245.50L91.50 244.50L92.50 245.50L93.50 246.50L94.50 246.50L96.50 245.50L97.50 246.50L98.50 245.50L99.50 244.50L100.50 245.50L101.50 245.50L102.50 245.50L103.50 244.50L104.50 244.50L105.50 245.50L106.50 245.50L107.50 245.50L108.50 244.50L109.50 245.50L110.50 245.50L111.50 246.50L112.50 245.50L113.50 245.50L114.50 244.50L115.50 245.50L117.50 245.50L118.50 245.50L119.50 244.50L120.50 244.50L121.50 245.50L122.50 245.50L123.50 244.50L124.50 245.50L125.50 245.50L126.50 244.50L127.50 245.50L128.50 245.50L129.50 245.50L130.50 245.50L131.50 244.50L132.50 245.50L133.50 245.50L134.50 246.50L135.50 245.50L136.50 245.50L138.50 245.50L139.50 245.50L140.50 245.50L141.50 245.50L142.50 244.50L143.50 246.50L144.50 245.50L145.50 245.50L146.50 246.50L147.50 245.50L148.50 245.50L149.50 245.50L150.50 245.50L151.50 245.50L152.50 245.50L153.50 245.50L154.50 245.50L155.50 246.50L156.50 245.50L157.50 245.50L159.50 245.50L160.50 245.50L161.50 245.50L162.50 245.50L163.50 245.50L164.50 244.50L165.50 245.50L166.50 245.50L167.50 245.50L168.50 245.50L169.50 245.50L170.50 245.50L171.50 245.50L172.50 246.50L173.50 245.50L174.50 245.50L175.50 245.50L176.50 244.50L177.50 245.50L178.50 244.50L180.50 245.50L181.50 246.50L182.50 246.50L183.50 246.50L184.50 245.50L185.50 245.50L186.50 246.50L187.50 244.50L188.50 245.50L189.50 245.50L190.50 244.50L191.50 245.50L192.50 245.50L193.50 245.50L194.50 245.50L195.50 245.50L196.50 244.50L197.50 245.50L198.50 244.50L199.50 245.50L201.50 245.50L202.50 245.50L203.50 245.50L204.50 245.50L205.50 245.50L206.50 244.50L207.50 245.50L208.50 244.50L209.50 245.50L210.50 246.50L211.50 244.50L212.50 245.50L213.50 245.50L214.50 246.50L215.50 245.50L216.50 245.50L217.50 245.50L218.50 245.50L219.50 245.50L220.50 245.50L222.50 244.50L223.50 245.50L224.50 245.50L225.50 244.50L226.50 245.50L227.50 244.50L228.50 245.50L229.50 244.50L230.50 245.50L231.50 244.50L232.50 245.50L233.50 245.50L234.50 246.50L235.50 244.50L236.50 245.50L237.50 245.50L238.50 245.50L239.50 246.50L240.50 244.50L241.50 244.50L243.50 244.50L244.50 245.50L245.50 245.50L246.50 245.50L247.50 244.50L248.50 244.50L249.50 245.50L250.50 246.50L251.50 245.50L252.50 246.50L253.50 246.50L254.50 245.50L255.50 245.50L256.50 245.50L257.50 246.50L258.50 245.50L259.50 245.50L260.50 245.50L261.50 245.50L262.50 244.50L264.50 245.50L265.50 245.50L266.50 245.50L267.50 244.50L268.50 245.50L269.50 246.50L270.50 244.50L271.50 245.50L272.50 245.50L273.50 245.50L274.50 245.50L275.50 246.50L276.50 245.50L277.50 245.50L278.50 246.50L279.50 245.50L280.50 245.50L281.50 245.50L282.50 245.50L283.50 246.50L285.50 245.50L286.50 246.50L287.50 244.50L288.50 245.50L289.50 246.50L290.50 244.50L291.50 244.50L292.50 245.50L293.50 246.50L294.50 245.50L295.50 245.50L296.50 244.50L297.50 246.50L298.50 245.50L299.50 245.50L300.50 245.50L301.50 245.50L302.50 246.50L303.50 245.50L304.50 244.50L306.50 244.50L307.50 245.50L308.50 244.50L309.50 245.50L310.50 244.50L311.50 246.50L312.50 245.50L313.50 245.50L314.50 245.50L315.50 245.50L316.50 245.50L317.50 245.50L318.50 246.50L319.50 244.50L320.50 244.50L321.50 246.50L322.50 245.50L323.50 246.50L324.50 244.50L325.50 244.50L327.50 244.50L328.50 245.50L329.50 245.50L330.50 246.50L331.50 245.50L332.50 245.50L333.50 245.50L334.50 245.50L335.50 245.50L336.50 245.50L337.50 246.50L338.50 245.50L339.50 244.50L340.50 246.50L341.50 244.50L342.50 245.50L343.50 244.50L344.50 244.50L345.50 245.50L346.50 245.50L348.50 245.50L349.50 245.50L350.50 245.50L351.50 244.50L352.50 246.50L353.50 245.50L354.50 246.50L355.50 245.50L356.50 244.50L357.50 245.50L358.50 245.50L359.50 244.50L360.50 245.50L361.50 245.50L362.50 245.50L363.50 244.50L364.50 245.50L365.50 245.50L366.50 245.50L367.50 245.50L369.50 245.50L370.50 245.50L371.50 245.50L372.50 246.50L373.50 245.50L374.50 245.50L375.50 246.50L376.50 245.50L377.50 245.50L378.50 245.50L379.50 245.50L380.50 245.50L381.50 246.50L382.50 244.50L383.50 245.50L384.50 245.50L385.50 245.50L386.50 245.50L387.50 244.50L388.50 245.50L390.50 245.50L391.50 245.50L392.50 246.50L393.50 245.50L394.50 245.50L395.50 245.50L396.50 245.50L397.50 244.50L398.50 245.50L399.50 245.50L400.50 246.50L401.50 245.50L402.50 245.50L403.50 244.50L404.50 245.50L405.50 244.50L406.50 244.50L407.50 245.50L408.50 245.50L409.50 245.50L411.50 245.50L412.50 245.50L413.50 246.50L414.50 245.50L415.50 245.50L416.50 245.50L417.50 245.50L418.50 246.50L419.50 245.50L420.50 246.50L421.50 244.50L422.50 245.50L423.50 245.50L424.50 246.50L425.50 244.50L426.50 245.50L427.50 244.50L428.50 246.50L429.50 245.50L430.50 245.50L432.50 245.50L433.50 245.50L434.50 245.50L435.50 245.50L436.50 244.50L437.50 244.50L438.50 245.50L439.50 245.50L440.50 244.50L441.50 244.50L442.50 245.50L443.50 246.50L444.50 245.50L445.50 245.50L446.50 245.50L447.50 245.50L448.50 244.50L449.50 244.50L450.50 246.50L451.50 245.50L453.50 245.50L454.50 244.50L455.50 246.50L456.50 246.50L457.50 245.50L458.50 245.50L459.50 245.50L460.50 245.50L461.50 244.50L462.50 244.50L463.50 245.50L464.50 244.50L465.50 245.50L466.50 245.50L467.50 244.50L468.50 245.50L469.50 245.50L470.50 245.50L471.50 246.50L472.50 245.50L474.50 244.50L475.50 244.50L476.50 246.50L477.50 246.50L478.50 245.50L479.50 245.50L480.50 245.50L481.50 245.50L482.50 244.50L483.50 244.50L484.50 245.50L485.50 245.50L486.50 246.50L487.50 245.50L488.50 245.50L489.50 245.50L490.50 245.50L491.50 245.50L492.50 244.50L493.50 245.50L495.50 245.50L496.50 245.50L497.50 245.50L498.50 244.50L499.50 245.50L500.50 245.50L501.50 246.50L502.50 245.50L503.50 245.50L504.50 245.50L505.50 245.50L506.50 245.50L507.50 245.50L508.50 245.50L509.50 245.50L510.50 245.50L511.50 246.50L512.50 245.50L513.50 245.50L514.50 244.50L516.50 245.50L517.50 245.50L518.50 245.50L519.50 244.50L520.50 244.50L521.50 244.50L522.50 246.50L523.50 244.50L524.50 245.50L525.50 245.50L526.50 245.50L527.50 244.50L528.50 244.50L529.50 245.50L530.50 245.50L531.50 245.50L532.50 245.50L533.50 245.50L534.50 244.50L535.50 245.50L537.50 246.50L538.50 245.50L539.50 246.50L540.50 244.50L541.50 244.50L542.50 245.50L543.50 244.50L544.50 245.50L545.50 245.50L546.50 245.50L547.50 246.50L548.50 246.50L549.50 244.50L550.50 245.50L551.50 245.50L552.50 246.50L553.50 245.50L554.50 246.50L555.50 244.50L556.50 245.50L558.50 244.50L559.50 245.50L560.50 245.50L561.50 246.50L562.50 245.50L563.50 244.50L564.50 245.50L565.50 245.50L566.50 246.50L567.50 245.50L568.50 245.50L569.50 245.50L570.50 245.50L571.50 246.50L572.50 244.50L573.50 245.50L574.50 246.50L575.50 245.50L576.50 245.50L577.50 245.50L579.50 245.50L580.50 245.50L581.50 245.50L582.50 244.50L583.50 245.50L584.50 245.50L585.50 245.50L586.50 246.50L587.50 245.50L588.50 245.50L589.50 244.50L590.50 246.50L591.50 245.50L592.50 245.50L593.50 245.50L594.50 244.50L595.50 245.50L596.50 245.50L597.50 245.50L598.50 246.50L600.50 245.50L601.50 246.50L602.50 245.50L603.50 245.50L604.50 245.50L605.50 245.50L606.50 245.50L607.50 246.50L608.50 244.50L609.50 245.50L610.50 246.50L611.50 245.50L612.50 245.50L613.50 245.50L614.50 245.50L615.50 246.50L616.50 246.50L617.50 246.50L618.50 244.50L619.50 244.50L621.50 245.50"/><path fill="#008040" d="M581 165h29v1h-29z"/><path clip-path="url(#c)" fill="none" stroke-width="1" stroke="#008040" d="M55.33 195.00L56.00 214.17L57.00 231.67L58.17 236.67L59.83 240.00L60.67 245.00L62.33 238.33L63.58 235.22L64.83 233.33L66.08 231.46L67.33 230.00L69.00 240.00L70.67 233.33L72.00 246.67L73.67 225.83L74.83 235.00L75.67 241.67L77.33 250.00L78.50 263.33L79.83 243.33L81.50 236.67L83.17 231.67L84.83 229.17L86.08 229.53L87.33 230.00L89.00 232.50L90.11 232.77L91.22 229.68L92.33 230.83L93.44 230.61L94.56 230.76L95.67 233.33L96.78 232.49L97.89 231.81L99.00 231.67L100.25 233.05L101.50 232.50L102.75 236.15L104.00 240.00L105.11 236.95L106.22 238.23L107.33 236.67L108.44 236.27L109.56 234.89L110.67 233.33L111.78 234.43L112.89 234.07L114.00 235.00L115.25 229.95L116.50 225.83L117.89 223.11L119.28 219.58L120.67 219.17L121.92 223.09L123.17 224.17L124.28 224.62L125.39 225.05L126.50 226.67L127.89 224.94L129.28 223.49L130.67 222.50L131.78 223.01L132.89 225.00L134.00 226.67L135.25 227.76L136.50 226.67L137.89 225.55L139.28 224.07L140.67 222.50L141.78 224.81L142.89 225.14L144.00 225.00L145.11 226.28L146.22 225.02L147.33 225.83L148.44 225.34L149.56 223.11L150.67 224.17L151.78 224.59L152.89 229.01L154.00 230.00L155.11 229.21L156.22 230.21L157.33 228.33L158.58 228.00L159.83 230.00L161.08 232.09L162.33 234.17L163.44 230.81L164.56 230.58L165.67 228.33L166.78 226.72L167.89 226.14L169.00 225.83L170.11 226.70L171.22 223.99L172.33 224.17L173.44 224.55L174.56 224.27L175.67 222.50L176.78 217.66L177.89 218.23L179.00 215.83L180.00 218.33L181.88 221.00L183.12 225.38L184.38 223.67L185.62 222.88L186.88 223.48L188.12 224.12L189.38 225.61L190.62 226.00L192.19 226.05L193.75 229.12L195.00 231.10L196.25 231.00L198.12 226.00L200.00 231.00L201.88 232.25L203.75 224.12L205.00 221.86L206.25 221.00L207.50 219.79L208.75 216.72L210.00 216.62L211.88 214.75L213.75 217.25L215.00 221.00L216.25 216.00L217.50 227.25L218.12 256.00L219.50 278.00L221.00 255.00L222.50 227.00L224.00 220.00L225.60 221.00L227.50 222.00L228.75 220.06L230.00 218.50L232.00 218.50L233.75 209.75L235.00 171.25L236.50 172.50L237.50 222.00L239.00 225.00L241.00 226.00L242.50 226.71L244.00 227.00L245.17 226.52L246.33 228.73L247.50 228.00L248.75 228.60L250.00 232.00L252.00 233.00L253.75 230.00L255.60 224.75L257.50 228.00L258.75 227.18L260.00 226.00L261.12 226.49L262.23 227.18L263.35 227.70L264.46 228.21L265.58 230.88L266.69 229.75L267.81 232.53L269.06 230.35L270.31 229.13L271.56 225.03L272.81 225.23L274.06 226.56L275.31 226.90L276.56 225.23L277.81 224.01L279.07 221.28L280.47 219.43L281.88 217.52L283.29 213.05L284.69 209.08L286.57 215.65L287.82 217.20L289.07 219.30L290.32 219.40L291.57 220.31L292.82 222.00L294.08 223.15L295.29 224.90L296.51 223.17L297.69 223.65L298.86 223.44L300.03 220.79L301.20 221.29L302.38 221.16L303.55 222.48L304.72 220.34L305.89 220.36L307.15 220.93L308.40 222.94L309.65 225.05L310.90 227.33L312.15 226.11L313.40 227.86L314.81 226.27L316.21 223.17L317.39 223.14L318.56 222.86L319.73 220.68L320.90 221.29L322.08 221.64L323.25 221.66L324.42 222.63L325.59 223.17L326.85 221.84L328.10 220.97L329.35 220.36L330.52 220.62L331.69 221.80L332.86 222.44L334.04 224.11L335.21 223.49L336.38 223.85L337.56 223.56L338.73 223.17L339.85 222.52L340.98 220.95L342.11 220.09L343.23 220.05L344.36 219.42L345.61 222.35L346.86 221.93L348.11 223.17L349.28 225.21L350.45 227.58L351.63 231.38L352.80 232.55L354.05 231.39L355.30 226.17L356.55 225.05L357.80 222.43L359.05 222.41L360.30 224.11L361.55 225.81L362.81 226.94L364.06 226.92L365.46 226.92L366.87 223.17L368.12 223.73L369.37 225.04L370.62 225.05L371.75 224.40L372.87 224.15L374.00 221.93L375.13 224.08L376.25 224.11L377.42 225.48L378.60 226.16L379.77 226.30L380.94 226.92L382.07 225.98L383.19 225.31L384.32 224.71L385.73 229.16L387.13 231.28L388.38 232.21L389.63 232.55L390.89 233.15L392.14 233.46L393.39 233.36L394.64 234.09L395.89 231.71L397.14 230.09L398.39 229.40L399.52 229.58L400.64 229.79L401.77 229.93L402.89 230.37L404.02 230.34L405.27 228.64L406.52 225.45L407.77 223.77L409.02 223.90L410.27 227.01L411.52 229.40L412.76 231.27L414.00 231.25L415.25 227.52L416.50 225.00L417.75 223.61L419.00 222.45L420.25 225.33L421.50 223.75L422.75 224.57L424.00 223.68L425.25 226.73L426.50 225.00L427.75 223.60L429.00 225.30L430.25 223.07L431.50 222.50L432.75 224.87L434.00 226.25L436.00 231.25L436.50 308.75L437.75 310.00L439.00 308.34L440.25 307.01L441.50 305.00L442.75 306.02L444.00 307.23L445.25 305.60L446.50 306.25L447.75 305.28L449.00 304.01L450.25 306.37L451.50 305.00L452.75 304.00L454.00 306.81L455.25 306.18L456.50 307.50L457.75 306.33L459.00 310.00L460.25 307.11L461.50 308.12L462.75 306.00L464.00 305.00L465.25 302.21L466.50 300.00L467.75 270.00L469.00 220.00L470.25 219.72L471.50 219.27L472.75 221.25L474.00 220.52L475.25 218.63L476.50 220.00L477.75 221.35L479.00 225.00L480.25 225.17L481.50 225.06L482.75 227.08L484.00 227.50L485.29 227.63L486.57 226.59L487.82 227.83L489.07 224.92L490.32 224.71L491.55 225.68L492.77 225.59L494.00 226.00L495.33 225.56L496.67 223.18L498.00 224.00L499.33 225.30L500.67 224.47L502.00 223.00L503.20 223.37L504.40 225.44L505.60 224.49L506.80 226.98L508.00 226.00L509.50 232.31L511.00 238.00L512.50 234.70L514.00 229.00L515.50 223.75L517.00 222.00L518.50 224.04L520.00 226.00L521.33 227.27L522.67 228.40L524.00 230.00L525.50 221.73L527.00 214.00L528.50 216.47L530.00 221.00L531.33 222.85L532.67 222.23L534.00 223.00L535.33 224.15L536.67 222.33L538.00 225.00L539.33 224.99L540.67 225.82L542.00 226.00L543.33 225.67L544.67 228.43L546.00 228.00L547.33 230.27L548.67 229.71L550.00 229.00L551.33 226.78L552.67 226.94L554.00 225.00L555.33 225.92L556.67 227.10L558.00 229.00L559.33 229.09L560.67 231.28L562.00 232.00L563.33 231.85L564.67 231.86L566.00 232.00L567.33 233.92L568.67 233.53L570.00 236.00L571.33 235.82L572.67 236.14L574.00 235.00L575.33 235.26L576.67 234.08L578.00 233.00L579.33 233.28L580.67 235.02L582.00 234.00L583.33 235.20L584.67 237.40L586.00 238.00L587.33 237.33L588.67 239.88L590.00 240.00L591.33 238.80L592.67 236.47L594.00 236.00L595.33 233.64L596.67 230.24L598.00 228.00L599.25 226.44L600.50 223.01L601.75 223.39L603.00 220.00L604.33 221.56L605.67 225.04L607.00 228.00L608.33 227.78L609.67 229.21L611.00 231.00L612.33 233.52L613.67 235.53L615.00 236.00L616.50 237.85L618.00 240.00L619.33 241.49L620.67 243.49L622.00 246.00"/><path fill="#a080ff" d="M581 178h29v1h-29z"/><path clip-path="url(#c)" fill="none" stroke-width="1" stroke="#a080ff" d="M54.83 243.33L56.08 243.19L57.33 244.17L58.44 244.40L59.56 245.38L60.67 245.83L61.78 246.25L62.89 246.61L64.00 246.67L65.11 245.79L66.22 246.27L67.33 245.00L68.58 244.50L69.83 243.33L71.08 243.90L72.33 246.67L73.44 247.38L74.56 247.26L75.67 247.50L76.78 248.54L77.89 249.57L79.00 250.00L80.25 249.29L81.50 249.17L82.75 248.62L84.00 247.50L85.11 246.94L86.22 247.68L87.33 248.33L88.44 247.18L89.56 246.99L90.67 246.67L91.78 245.78L92.89 246.33L94.00 245.00L95.11 246.23L96.22 247.56L97.33 247.50L98.44 247.78L99.56 247.29L100.67 246.67L101.78 247.56L102.89 249.71L104.00 250.00L105.11 250.42L106.22 250.50L107.33 251.67L108.44 250.94L109.56 250.78L110.67 249.17L111.78 247.85L112.89 247.23L114.00 245.00L115.11 242.30L116.22 239.05L117.33 238.33L118.44 236.07L119.56 234.38L120.67 231.67L121.78 231.84L122.89 232.96L124.00 233.33L125.11 231.52L126.22 232.81L127.33 231.67L128.44 231.56L129.56 229.60L130.67 228.33L132.33 231.67L134.00 233.33L135.11 232.07L136.22 229.30L137.33 228.33L138.44 227.97L139.56 226.29L140.67 225.00L141.78 225.94L142.89 228.34L144.00 228.33L145.11 226.68L146.22 227.89L147.33 226.67L148.44 227.60L149.56 227.96L150.67 230.00L151.78 230.03L152.89 228.79L154.00 228.33L155.11 228.32L156.22 227.71L157.33 226.67L158.44 227.15L159.56 225.57L160.67 225.00L161.92 225.89L163.17 226.67L164.83 221.67L165.67 216.67L166.92 214.68L168.17 211.67L169.83 208.33L171.08 205.72L172.33 201.67L173.58 199.62L174.83 197.50L176.08 198.99L177.33 200.83L178.58 199.62L179.83 195.83L181.50 201.67L183.17 206.67L183.75 206.00L185.25 209.75L186.88 202.25L188.50 201.00L190.60 120.40L191.60 120.40L192.25 141.00L193.32 168.41L194.40 196.00L195.60 293.75L197.50 250.00L198.10 208.00L199.50 260.00L200.60 296.00L201.30 300.00L202.80 302.00L203.50 309.00L204.40 328.00L204.70 343.40L205.20 334.00L205.70 325.00L206.40 317.00L207.50 315.80L208.60 315.70L210.00 310.60L211.10 309.21L212.20 309.00L213.70 311.30L214.90 314.20L216.60 308.40L217.80 325.00L218.40 347.00L219.50 351.40L220.30 360.90L221.00 351.40L222.40 329.50L223.20 316.40L224.60 309.00L226.10 311.30L227.50 316.40L229.00 310.60L230.50 313.50L232.40 308.40L233.40 306.20L233.80 296.00L235.00 260.00L236.25 261.00L237.50 293.75L238.50 307.70L239.60 308.41L240.70 307.00L242.15 309.34L243.60 310.60L244.70 307.53L245.80 303.30L247.25 304.70L248.70 304.70L249.80 303.87L250.90 304.70L253.00 299.00L254.50 296.00L256.00 292.61L257.50 290.00L258.88 290.10L260.25 287.50L261.50 286.06L262.75 285.57L264.00 284.00L265.25 283.74L266.50 281.85L267.75 280.00L269.00 274.47L270.25 270.00L271.51 268.65L272.77 265.43L274.04 264.80L275.30 262.50L276.37 261.21L277.44 260.64L278.51 258.82L279.59 258.65L280.66 256.64L281.73 256.34L282.80 255.00L284.20 248.70L285.60 242.00L287.25 251.00L288.50 257.25L290.38 261.00L292.25 258.50L293.50 256.77L294.75 252.25L296.00 253.34L297.25 254.75L298.50 257.79L299.75 259.75L301.62 257.25L303.50 262.25L304.75 258.59L306.00 255.38L307.88 259.75L309.12 260.52L310.38 262.25L312.25 267.25L314.12 262.25L315.38 264.21L316.62 264.75L318.19 264.54L319.75 266.00L321.00 266.83L322.25 266.60L323.50 267.25L324.75 267.97L326.00 268.50L327.25 271.32L328.50 274.12L329.75 274.13L331.00 275.38L332.25 275.94L333.50 277.25L334.75 277.60L336.00 278.50L337.25 279.07L338.50 279.75L340.06 279.71L341.62 279.12L343.50 279.75L345.38 282.88L347.25 281.00L348.50 282.86L349.75 286.00L350.88 288.78L352.00 291.70L353.30 289.54L354.60 287.50L355.98 287.34L357.37 285.67L358.75 284.40L359.81 284.82L360.88 284.03L361.94 282.80L363.00 282.30L364.33 281.80L365.67 279.61L367.00 279.00L368.06 280.05L369.12 281.25L370.19 281.88L371.25 282.30L372.63 281.95L374.02 281.46L375.40 280.20L376.45 279.89L377.50 277.88L378.55 278.11L379.60 278.10L380.98 277.56L382.37 275.88L383.75 276.00L385.13 277.65L386.52 279.57L387.90 280.20L389.27 278.96L390.63 278.47L392.00 277.00L393.10 273.28L394.20 268.75L395.75 263.70L397.30 258.30L399.40 245.80L400.45 238.43L401.50 231.25L403.50 220.80L404.55 219.67L405.60 219.80L407.70 220.80L408.75 226.34L409.80 231.25L411.35 230.27L412.90 229.20L413.95 232.49L415.00 236.50L417.00 239.60L418.30 239.03L419.60 237.09L420.90 235.97L422.16 235.66L423.41 234.60L424.66 233.15L425.91 234.27L427.16 236.50L428.41 238.78L429.66 237.18L430.91 236.38L432.16 235.03L433.41 233.63L434.66 235.35L435.91 234.09L437.16 234.28L438.42 234.54L439.67 235.03L440.92 235.07L442.17 237.03L443.42 236.90L444.59 236.51L445.76 236.71L446.94 237.49L448.11 236.90L449.52 239.51L450.92 241.59L452.10 241.58L453.27 242.05L454.44 243.03L455.61 242.53L456.76 237.69L457.91 231.16L459.06 226.94L460.20 219.87L461.35 214.62L462.50 210.00L463.75 202.50L465.00 192.50L465.62 186.25L467.50 180.00L469.38 178.75L471.25 182.50L473.12 188.75L475.00 193.75L476.88 194.38L478.12 194.66L479.38 196.25L481.25 199.38L482.50 199.56L483.75 200.00L485.62 203.12L486.88 198.75L488.12 198.75L489.38 205.00L490.25 208.75L491.88 202.50L493.12 197.50L495.00 196.25L496.88 192.50L498.12 190.81L499.38 188.75L501.25 186.25L503.12 184.38L505.00 181.25L506.88 178.75L508.12 173.12L509.38 169.38L510.62 171.25L511.25 175.62L511.88 173.75L512.50 168.75L513.75 165.00L514.00 157.50L514.75 150.00L516.00 138.80L517.45 133.39L518.90 127.50L520.20 122.98L521.50 118.00L522.75 110.51L524.00 103.00L525.25 88.00L526.50 83.14L527.75 76.75L528.81 74.08L529.88 73.40L530.94 71.54L532.00 69.90L533.27 65.66L534.53 61.22L535.80 56.80L537.60 45.50L538.93 42.90L540.27 41.69L541.60 38.50L543.00 30.00L544.08 29.83L545.16 29.61L546.24 30.70L547.32 30.92L548.40 30.00L549.40 41.00L550.30 52.25L550.90 38.50L552.00 30.00L553.25 30.51L554.50 30.58L555.75 30.97L557.00 30.00L557.90 38.50L559.10 43.75L560.40 46.25L562.25 50.00L563.50 51.85L564.75 51.90L566.60 55.00L567.90 58.75L569.75 62.50L570.40 66.25L571.60 65.00L573.50 66.25L574.75 68.75L576.00 71.25L577.90 73.75L579.75 77.50L581.60 82.50L582.90 85.60L583.25 78.75L584.50 81.25L585.75 85.00L586.00 90.00L586.60 93.75L588.50 95.00L589.95 95.14L591.40 94.00L593.25 95.25L594.50 99.00L595.75 97.75L597.00 99.60L598.25 102.10L599.50 100.90L601.40 100.90L602.60 100.25L603.90 102.10L604.50 106.50L605.10 110.25L605.75 114.60L607.00 117.10L607.60 120.25L608.90 117.75L610.10 120.90L612.00 124.00L613.90 127.75L615.75 130.25L617.60 135.25L618.90 139.00L620.10 144.00L621.00 145.90L623.00 150.00"/><path fill="#804000" d="M581 191h29v1h-29z"/><path clip-path="url(#c)" fill="none" stroke-width="1" stroke="#804000" d="M54.00 133.00L55.25 135.07L56.50 135.08L57.75 133.54L59.00 133.75L60.25 134.50L61.50 135.19L62.75 138.00L64.00 135.90L65.25 133.15L66.50 132.50L67.75 132.15L69.00 131.25L70.25 133.00L71.50 130.99L72.75 128.04L74.00 127.00L75.25 127.52L76.50 126.35L77.75 126.10L79.00 126.25L80.07 126.25L81.14 125.05L82.21 126.57L83.29 124.95L84.36 124.97L85.43 122.98L86.50 123.75L87.75 126.52L89.00 127.00L90.25 125.62L91.50 125.96L92.75 123.75L94.00 124.36L95.25 124.37L96.50 126.31L97.75 126.25L99.00 127.70L100.25 128.14L101.50 129.70L102.75 131.25L104.00 134.64L105.25 137.62L106.50 138.75L107.75 138.50L109.00 134.71L110.25 133.95L111.50 132.50L112.75 132.08L114.00 133.94L115.25 133.00L116.50 130.74L117.75 127.51L119.00 126.41L120.25 123.00L121.50 125.47L122.75 125.50L124.00 127.77L125.25 127.34L126.50 129.50L127.75 125.87L129.00 121.73L130.25 119.50L131.50 122.67L132.75 127.38L134.00 130.00L135.25 131.14L136.50 130.22L137.75 131.95L139.00 132.50L140.25 132.85L141.50 133.26L142.75 133.55L144.00 133.00L145.25 134.64L146.50 133.89L147.75 135.34L149.00 135.18L150.25 136.25L151.50 147.50L152.57 148.40L153.64 148.29L154.71 149.57L155.79 150.96L156.86 150.39L157.93 151.48L159.00 152.50L160.25 154.55L161.50 158.80L162.75 157.24L164.00 160.00L165.25 159.11L166.50 158.76L167.75 158.45L169.00 159.21L170.25 159.50L171.50 163.36L172.75 165.00L174.00 163.76L175.25 163.16L176.50 161.25L177.75 158.76L179.00 155.50L180.25 162.75L181.50 170.00L182.75 171.05L184.00 171.58L185.25 173.20L186.50 175.00L187.67 178.13L188.83 177.16L190.00 178.54L192.08 181.15L193.91 193.65L195.21 185.24L196.51 178.54L197.81 178.66L199.11 181.15L200.42 173.97L201.72 166.82L203.02 167.87L204.32 164.80L205.62 164.22L206.93 163.93L208.23 159.16L209.53 157.71L210.83 159.07L212.14 160.31L213.26 155.51L214.39 149.59L215.52 145.21L217.34 157.71L219.17 199.38L221.25 157.71L222.55 154.90L223.85 154.30L225.16 151.20L226.46 149.20L227.76 149.72L229.06 148.59L231.15 152.50L232.97 129.06L234.79 98.33L236.88 116.04L238.18 152.50L239.48 152.53L240.78 155.32L242.08 155.10L243.39 154.98L244.69 153.95L245.99 153.80L247.29 155.15L248.59 156.41L249.90 165.90L251.20 173.33L252.50 174.07L253.80 174.64L255.10 170.90L256.41 164.22L257.71 162.19L259.01 157.19L260.31 158.18L261.61 160.31L263.44 161.61L264.74 159.12L266.04 154.58L268.12 165.52L269.43 165.46L270.73 164.22L272.03 167.55L273.33 168.12L274.64 167.90L275.94 166.82L277.24 172.15L278.54 178.54L279.84 184.64L281.15 188.96L282.45 180.72L283.75 173.33L285.83 187.66L287.51 200.66L288.73 204.55L289.95 208.16L291.35 208.06L292.76 209.10L294.17 208.79L295.58 208.16L296.83 210.34L298.08 210.91L299.33 211.91L300.58 209.19L301.83 208.77L303.08 206.29L304.33 206.20L305.58 205.44L306.83 205.35L308.24 208.94L309.65 211.91L311.52 217.54L312.77 217.26L314.03 216.52L315.28 217.54L316.45 218.11L317.62 217.57L318.79 219.87L319.97 219.42L321.37 215.86L322.78 212.85L324.03 214.01L325.28 214.82L326.53 216.60L327.78 217.49L329.03 218.76L330.29 218.48L331.69 219.70L333.10 220.36L334.98 214.73L336.23 213.39L337.48 211.84L338.73 211.91L340.14 209.57L341.54 210.04L342.95 208.09L344.36 206.29L345.61 204.59L346.86 205.63L348.11 203.47L349.42 181.89L350.36 161.26L351.30 206.29L352.52 209.35L353.74 210.04L355.14 210.04L356.55 209.10L357.96 212.03L359.37 215.67L360.77 217.37L362.18 221.29L363.31 224.49L364.43 226.92L365.65 225.54L366.87 224.11L368.28 226.78L369.68 229.74L370.94 229.11L372.19 228.57L373.44 226.92L374.52 229.06L375.59 228.92L376.67 229.73L377.75 229.40L378.88 230.61L380.00 229.55L381.13 230.42L382.26 227.90L383.38 229.40L384.63 234.48L385.88 234.79L387.13 238.78L388.38 240.23L389.63 240.14L390.89 240.66L392.06 240.27L393.23 239.96L394.40 240.23L395.58 239.72L396.75 239.59L397.92 237.77L399.09 236.49L400.27 235.97L401.52 234.29L402.77 235.56L404.02 233.15L405.43 236.49L406.83 237.84L408.08 236.60L409.33 236.09L410.59 236.90L411.84 238.89L413.09 239.60L414.34 240.66L415.59 242.00L416.84 244.98L418.09 246.29L419.34 244.69L420.59 243.31L421.84 244.41L423.02 245.28L424.19 242.77L425.36 246.08L426.53 248.16L427.78 249.67L429.03 248.33L430.29 250.04L431.54 248.07L432.79 248.55L434.04 246.29L435.91 250.04L437.16 249.42L438.42 247.78L439.67 250.04L440.84 251.60L442.01 252.30L443.18 251.40L444.36 251.91L445.53 251.47L446.70 253.34L447.87 253.19L449.05 253.79L450.17 254.50L451.30 255.32L452.42 256.51L453.55 257.34L454.68 257.54L455.93 257.18L457.18 255.69L458.43 254.73L459.60 253.46L460.77 252.79L461.95 253.22L463.12 253.79L464.29 252.03L465.46 251.50L466.64 253.16L467.81 251.91L469.06 253.43L470.31 255.23L471.56 255.67L472.81 256.05L474.06 258.16L475.31 259.42L476.44 258.51L477.56 259.63L478.69 259.01L479.82 261.02L480.94 260.36L482.19 261.24L483.44 263.07L484.69 263.17L486.57 265.05L487.82 263.06L489.07 262.39L490.32 262.23L491.55 261.80L492.77 259.15L494.00 260.00L495.33 259.54L496.67 259.83L498.00 259.00L499.20 259.02L500.40 258.58L501.60 260.08L502.80 258.23L504.00 258.00L505.33 259.46L506.67 258.87L508.00 261.00L509.33 264.74L510.67 267.95L512.00 272.00L514.00 262.00L515.33 259.99L516.67 260.11L518.00 260.00L519.33 259.00L520.67 260.53L522.00 260.00L523.25 258.03L524.50 255.83L525.75 256.50L527.00 252.00L529.00 259.00L530.50 259.71L532.00 261.00L533.33 259.74L534.67 259.07L536.00 259.00L537.33 259.69L538.67 259.45L540.00 260.00L541.20 260.28L542.40 260.53L543.60 260.10L544.80 262.66L546.00 261.00L547.33 262.01L548.67 260.80L550.00 259.00L551.33 256.79L552.67 255.22L554.00 254.00L555.33 254.76L556.67 255.81L558.00 258.00L559.25 257.64L560.50 257.49L561.75 258.66L563.00 257.00L564.25 257.96L565.50 259.67L566.75 261.31L568.00 261.00L570.00 264.00L571.33 261.51L572.67 260.20L574.00 257.00L575.33 255.17L576.67 255.62L578.00 254.00L579.33 254.25L580.67 255.06L582.00 256.00L583.33 258.08L584.67 259.26L586.00 260.00L587.33 258.70L588.67 255.43L590.00 254.00L591.33 252.80L592.67 251.07L594.00 249.00L595.33 247.59L596.67 248.77L598.00 248.00L599.25 245.06L600.50 242.53L601.75 237.98L603.00 237.00L604.50 241.26L606.00 246.00L607.50 245.22L609.00 243.00L610.50 244.33L612.00 246.00L613.33 246.44L614.67 249.18L616.00 249.00L617.50 251.48L619.00 252.00L620.50 254.87L622.00 256.00"/>
<path fill="#000" d="M54 38h568v1h-568zM54 453h568v1h-568zM54 38h1v416h-1zM621 38h1v416h-1zM54 453h5v1h-5z M617 453h5v1h-5zM54 384h5v1h-5z M617 384h5v1h-5zM54 315h5v1h-5z M617 315h5v1h-5zM54 245h5v1h-5z M617 245h5v1h-5zM54 176h5v1h-5z M617 176h5v1h-5zM54 107h5v1h-5z M617 107h5v1h-5zM54 38h5v1h-5z M617 38h5v1h-5zM54 449h1v5h-1z M54 38h1v5h-1zM159 449h1v5h-1z M159 38h1v5h-1zM264 449h1v5h-1z M264 38h1v5h-1zM369 449h1v5h-1z M369 38h1v5h-1zM474 449h1v5h-1z M474 38h1v5h-1zM579 449h1v5h-1z M579 38h1v5h-1z"/>
<path fill="#000" d="M12 454h5v1h-5zM20 450h1v1h-1zM19 451h2v1h-2zM18 452h1v1h-1zM20 452h1v1h-1zM20 453h1v1h-1zM20 454h1v1h-1zM20 455h1v1h-1zM20 456h1v1h-1zM18 457h5v1h-5zM24 450h5v1h-5zM24 451h1v1h-1zM24 452h4v1h-4zM24 453h1v1h-1zM28 453h1v1h-1zM28 454h1v1h-1zM28 455h1v1h-1zM24 456h1v1h-1zM28 456h1v1h-1zM25 457h3v1h-3zM32 450h1v1h-1zM31 451h1v1h-1zM33 451h1v1h-1zM30 452h1v1h-1zM34 452h1v1h-1zM30 453h1v1h-1zM34 453h1v1h-1zM30 454h1v1h-1zM34 454h1v1h-1zM30 455h1v1h-1zM34 455h1v1h-1zM31 456h1v1h-1zM33 456h1v1h-1zM32 457h1v1h-1zM38 450h1v1h-1zM37 451h1v1h-1zM39 451h1v1h-1zM36 452h1v1h-1zM40 452h1v1h-1zM36 453h1v1h-1zM40 453h1v1h-1zM36 454h1v1h-1zM40 454h1v1h-1zM36 455h1v1h-1zM40 455h1v1h-1zM37 456h1v1h-1zM39 456h1v1h-1zM38 457h1v1h-1zM44 450h1v1h-1zM43 451h1v1h-1zM45 451h1v1h-1zM42 452h1v1h-1zM46 452h1v1h-1zM42 453h1v1h-1zM46 453h1v1h-1zM42 454h1v1h-1zM46 454h1v1h-1zM42 455h1v1h-1zM46 455h1v1h-1zM43 456h1v1h-1zM45 456h1v1h-1zM44 457h1v1h-1zM12 385h5v1h-5zM20 381h1v1h-1zM19 382h2v1h-2zM18 383h1v1h-1zM20 383h1v1h-1zM20 384h1v1h-1zM20 385h1v1h-1zM20 386h1v1h-1zM20 387h1v1h-1zM18 388h5v1h-5zM26 381h1v1h-1zM25 382h1v1h-1zM27 382h1v1h-1zM24 383h1v1h-1zM28 383h1v1h-1zM24 384h1v1h-1zM28 384h1v1h-1zM24 385h1v1h-1zM28 385h1v1h-1zM24 386h1v1h-1zM28 386h1v1h-1zM25 387h1v1h-1zM27 387h1v1h-1zM26 388h1v1h-1zM32 381h1v1h-1zM31 382h1v1h-1zM33 382h1v1h-1zM30 383h1v1h-1zM34 383h1v1h-1zM30 384h1v1h-1zM34 384h1v1h-1zM30 385h1v1h-1zM34 385h1v1h-1zM30 386h1v1h-1zM34 386h1v1h-1zM31 387h1v1h-1zM33 387h1v1h-1zM32 388h1v1h-1zM38 381h1v1h-1zM37 382h1v1h-1zM39 382h1v1h-1zM36 383h1v1h-1zM40 383h1v1h-1zM36 384h1v1h-1zM40 384h1v1h-1zM36 385h1v1h-1zM40 385h1v1h-1zM36 386h1v1h-1zM40 386h1v1h-1zM37 387h1v1h-1zM39 387h1v1h-1zM38 388h1v1h-1zM44 381h1v1h-1zM43 382h1v1h-1zM45 382h1v1h-1zM42 383h1v1h-1zM46 383h1v1h-1zM42 384h1v1h-1zM46 384h1v1h-1zM42 385h1v1h-1zM46 385h1v1h-1zM42 386h1v1h-1zM46 386h1v1h-1zM43 387h1v1h-1zM45 387h1v1h-1zM44 388h1v1h-1zM18 316h5v1h-5zM24 312h5v1h-5zM24 313h1v1h-1zM24 314h4v1h-4zM24 315h1v1h-1zM28 315h1v1h-1zM28 316h1v1h-1zM28 317h1v1h-1zM24 318h1v1h-1zM28 318h1v1h-1zM25 319h3v1h-3zM32 312h1v1h-1zM31 313h1v1h-1zM33 313h1v1h-1zM30 314h1v1h-1zM34 314h1v1h-1zM30 315h1v1h-1zM34 315h1v1h-1zM30 316h1v1h-1zM34 316h1v1h-1zM30 317h1v1h-1zM34 317h1v1h-1zM31 318h1v1h-1zM33 318h1v1h-1zM32 319h1v1h-1zM38 312h1v1h-1zM37 313h1v1h-1zM39 313h1v1h-1zM36 314h1v1h-1zM40 314h1v1h-1zM36 315h1v1h-1zM40 315h1v1h-1zM36 316h1v1h-1zM40 316h1v1h-1zM36 317h1v1h-1zM40 317h1v1h-1zM37 318h1v1h-1zM39 318h1v1h-1zM38 319h1v1h-1zM44 312h1v1h-1zM43 313h1v1h-1zM45 313h1v1h-1zM42 314h1v1h-1zM46 314h1v1h-1zM42 315h1v1h-1zM46 315h1v1h-1zM42 316h1v1h-1zM46 316h1v1h-1zM42 317h1v1h-1zM46 317h1v1h-1zM43 318h1v1h-1zM45 318h1v1h-1zM44 319h1v1h-1zM44 243h1v1h-1zM43 244h1v1h-1zM45 244h1v1h-1zM42 245h1v1h-1zM46 245h1v1h-1zM42 246h1v1h-1zM46 246h1v1h-1zM42 247h1v1h-1zM46 247h1v1h-1zM42 248h1v1h-1zM46 248h1v1h-1zM43 249h1v1h-1zM45 249h1v1h-1zM44 250h1v1h-1zM24 173h5v1h-5zM24 174h1v1h-1zM24 175h4v1h-4zM24 176h1v1h-1zM28 176h1v1h-1zM28 177h1v1h-1zM28 178h1v1h-1zM24 179h1v1h-1zM28 179h1v1h-1zM25 180h3v1h-3zM32 173h1v1h-1zM31 174h1v1h-1zM33 174h1v1h-1zM30 175h1v1h-1zM34 175h1v1h-1zM30 176h1v1h-1zM34 176h1v1h-1zM30 177h1v1h-1zM34 177h1v1h-1zM30 178h1v1h-1zM34 178h1v1h-1zM31 179h1v1h-1zM33 179h1v1h-1zM32 180h1v1h-1zM38 173h1v1h-1zM37 174h1v1h-1zM39 174h1v1h-1zM36 175h1v1h-1zM40 175h1v1h-1zM36 176h1v1h-1zM40 176h1v1h-1zM36 177h1v1h-1zM40 177h1v1h-1zM36 178h1v1h-1zM40 178h1v1h-1zM37 179h1v1h-1zM39 179h1v1h-1zM38 180h1v1h-1zM44 173h1v1h-1zM43 174h1v1h-1zM45 174h1v1h-1zM42 175h1v1h-1zM46 175h1v1h-1zM42 176h1v1h-1zM46 176h1v1h-1zM42 177h1v1h-1zM46 177h1v1h-1zM42 178h1v1h-1zM46 178h1v1h-1zM43 179h1v1h-1zM45 179h1v1h-1zM44 180h1v1h-1zM20 104h1v1h-1zM19 105h2v1h-2zM18 106h1v1h-1zM20 106h1v1h-1zM20 107h1v1h-1zM20 108h1v1h-1zM20 109h1v1h-1zM20 110h1v1h-1zM18 111h5v1h-5zM26 104h1v1h-1zM25 105h1v1h-1zM27 105h1v1h-1zM24 106h1v1h-1zM28 106h1v1h-1zM24 107h1v1h-1zM28 107h1v1h-1zM24 108h1v1h-1zM28 108h1v1h-1zM24 109h1v1h-1zM28 109h1v1h-1zM25 110h1v1h-1zM27 110h1v1h-1zM26 111h1v1h-1zM32 104h1v1h-1zM31 105h1v1h-1zM33 105h1v1h-1zM30 106h1v1h-1zM34 106h1v1h-1zM30 107h1v1h-1zM34 107h1v1h-1zM30 108h1v1h-1zM34 108h1v1h-1zM30 109h1v1h-1zM34 109h1v1h-1zM31 110h1v1h-1zM33 110h1v1h-1zM32 111h1v1h-1zM38 104h1v1h-1zM37 105h1v1h-1zM39 105h1v1h-1zM36 106h1v1h-1zM40 106h1v1h-1zM36 107h1v1h-1zM40 107h1v1h-1zM36 108h1v1h-1zM40 108h1v1h-1zM36 109h1v1h-1zM40 109h1v1h-1zM37 110h1v1h-1zM39 110h1v1h-1zM38 111h1v1h-1zM44 104h1v1h-1zM43 105h1v1h-1zM45 105h1v1h-1zM42 106h1v1h-1zM46 106h1v1h-1zM42 107h1v1h-1zM46 107h1v1h-1zM42 108h1v1h-1zM46 108h1v1h-1zM42 109h1v1h-1zM46 109h1v1h-1zM43 110h1v1h-1zM45 110h1v1h-1zM44 111h1v1h-1zM20 35h1v1h-1zM19 36h2v1h-2zM18 37h1v1h-1zM20 37h1v1h-1zM20 38h1v1h-1zM20 39h1v1h-1zM20 40h1v1h-1zM20 41h1v1h-1zM18 42h5v1h-5zM24 35h5v1h-5zM24 36h1v1h-1zM24 37h4v1h-4zM24 38h1v1h-1zM28 38h1v1h-1zM28 39h1v1h-1zM28 40h1v1h-1zM24 41h1v1h-1zM28 41h1v1h-1zM25 42h3v1h-3zM32 35h1v1h-1zM31 36h1v1h-1zM33 36h1v1h-1zM30 37h1v1h-1zM34 37h1v1h-1zM30 38h1v1h-1zM34 38h1v1h-1zM30 39h1v1h-1zM34 39h1v1h-1zM30 40h1v1h-1zM34 40h1v1h-1zM31 41h1v1h-1zM33 41h1v1h-1zM32 42h1v1h-1zM38 35h1v1h-1zM37 36h1v1h-1zM39 36h1v1h-1zM36 37h1v1h-1zM40 37h1v1h-1zM36 38h1v1h-1zM40 38h1v1h-1zM36 39h1v1h-1zM40 39h1v1h-1zM36 40h1v1h-1zM40 40h1v1h-1zM37 41h1v1h-1zM39 41h1v1h-1zM38 42h1v1h-1zM44 35h1v1h-1zM43 36h1v1h-1zM45 36h1v1h-1zM42 37h1v1h-1zM46 37h1v1h-1zM42 38h1v1h-1zM46 38h1v1h-1zM42 39h1v1h-1zM46 39h1v1h-1zM42 40h1v1h-1zM46 40h1v1h-1zM43 41h1v1h-1zM45 41h1v1h-1zM44 42h1v1h-1zM56 463h1v1h-1zM55 464h1v1h-1zM57 464h1v1h-1zM54 465h1v1h-1zM58 465h1v1h-1zM54 466h1v1h-1zM58 466h1v1h-1zM54 467h1v1h-1zM58 467h1v1h-1zM54 468h1v1h-1zM58 468h1v1h-1zM55 469h1v1h-1zM57 469h1v1h-1zM56 470h1v1h-1zM155 463h1v1h-1zM154 464h2v1h-2zM153 465h1v1h-1zM155 465h1v1h-1zM155 466h1v1h-1zM155 467h1v1h-1zM155 468h1v1h-1zM155 469h1v1h-1zM153 470h5v1h-5zM161 463h1v1h-1zM160 464h1v1h-1zM162 464h1v1h-1zM159 465h1v1h-1zM163 465h1v1h-1zM159 466h1v1h-1zM163 466h1v1h-1zM159 467h1v1h-1zM163 467h1v1h-1zM159 468h1v1h-1zM163 468h1v1h-1zM160 469h1v1h-1zM162 469h1v1h-1zM161 470h1v1h-1zM167 463h1v1h-1zM166 464h1v1h-1zM168 464h1v1h-1zM165 465h1v1h-1zM169 465h1v1h-1zM165 466h1v1h-1zM169 466h1v1h-1zM165 467h1v1h-1zM169 467h1v1h-1zM165 468h1v1h-1zM169 468h1v1h-1zM166 469h1v1h-1zM168 469h1v1h-1zM167 470h1v1h-1zM259 463h3v1h-3zM258 464h1v1h-1zM262 464h1v1h-1zM262 465h1v1h-1zM261 466h1v1h-1zM260 467h1v1h-1zM259 468h1v1h-1zM258 469h1v1h-1zM258 470h5v1h-5zM266 463h1v1h-1zM265 464h1v1h-1zM267 464h1v1h-1zM264 465h1v1h-1zM268 465h1v1h-1zM264 466h1v1h-1zM268 466h1v1h-1zM264 467h1v1h-1zM268 467h1v1h-1zM264 468h1v1h-1zM268 468h1v1h-1zM265 469h1v1h-1zM267 469h1v1h-1zM266 470h1v1h-1zM272 463h1v1h-1zM271 464h1v1h-1zM273 464h1v1h-1zM270 465h1v1h-1zM274 465h1v1h-1zM270 466h1v1h-1zM274 466h1v1h-1zM270 467h1v1h-1zM274 467h1v1h-1zM270 468h1v1h-1zM274 468h1v1h-1zM271 469h1v1h-1zM273 469h1v1h-1zM272 470h1v1h-1zM364 463h3v1h-3zM363 464h1v1h-1zM367 464h1v1h-1zM367 465h1v1h-1zM365 466h2v1h-2zM367 467h1v1h-1zM367 468h1v1h-1zM363 469h1v1h-1zM367 469h1v1h-1zM364 470h3v1h-3zM371 463h1v1h-1zM370 464h1v1h-1zM372 464h1v1h-1zM369 465h1v1h-1zM373 465h1v1h-1zM369 466h1v1h-1zM373 466h1v1h-1zM369 467h1v1h-1zM373 467h1v1h-1zM369 468h1v1h-1zM373 468h1v1h-1zM370 469h1v1h-1zM372 469h1v1h-1zM371 470h1v1h-1zM377 463h1v1h-1zM376 464h1v1h-1zM378 464h1v1h-1zM375 465h1v1h-1zM379 465h1v1h-1zM375 466h1v1h-1zM379 466h1v1h-1zM375 467h1v1h-1zM379 467h1v1h-1zM375 468h1v1h-1zM379 468h1v1h-1zM376 469h1v1h-1zM378 469h1v1h-1zM377 470h1v1h-1zM471 463h1v1h-1zM470 464h2v1h-2zM469 465h1v1h-1zM471 465h1v1h-1zM468 466h1v1h-1zM471 466h1v1h-1zM468 467h1v1h-1zM471 467h1v1h-1zM468 468h5v1h-5zM471 469h1v1h-1zM471 470h1v1h-1zM476 463h1v1h-1zM475 464h1v1h-1zM477 464h1v1h-1zM474 465h1v1h-1zM478 465h1v1h-1zM474 466h1v1h-1zM478 466h1v1h-1zM474 467h1v1h-1zM478 467h1v1h-1zM474 468h1v1h-1zM478 468h1v1h-1zM475 469h1v1h-1zM477 469h1v1h-1zM476 470h1v1h-1zM482 463h1v1h-1zM481 464h1v1h-1zM483 464h1v1h-1zM480 465h1v1h-1zM484 465h1v1h-1zM480 466h1v1h-1zM484 466h1v1h-1zM480 467h1v1h-1zM484 467h1v1h-1zM480 468h1v1h-1zM484 468h1v1h-1zM481 469h1v1h-1zM483 469h1v1h-1zM482 470h1v1h-1zM573 463h5v1h-5zM573 464h1v1h-1zM573 465h4v1h-4zM573 466h1v1h-1zM577 466h1v1h-1zM577 467h1v1h-1zM577 468h1v1h-1zM573 469h1v1h-1zM577 469h1v1h-1zM574 470h3v1h-3zM581 463h1v1h-1zM580 464h1v1h-1zM582 464h1v1h-1zM579 465h1v1h-1zM583 465h1v1h-1zM579 466h1v1h-1zM583 466h1v1h-1zM579 467h1v1h-1zM583 467h1v1h-1zM579 468h1v1h-1zM583 468h1v1h-1zM580 469h1v1h-1zM582 469h1v1h-1zM581 470h1v1h-1zM587 463h1v1h-1zM586 464h1v1h-1zM588 464h1v1h-1zM585 465h1v1h-1zM589 465h1v1h-1zM585 466h1v1h-1zM589 466h1v1h-1zM585 467h1v1h-1zM589 467h1v1h-1zM585 468h1v1h-1zM589 468h1v1h-1zM586 469h1v1h-1zM588 469h1v1h-1zM587 470h1v1h-1zM313 17h1v1h-1zM315 17h2v1h-2zM313 18h2v1h-2zM317 18h1v1h-1zM313 19h1v1h-1zM317 19h1v1h-1zM313 20h1v1h-1zM317 20h1v1h-1zM313 21h2v1h-2zM317 21h1v1h-1zM313 22h1v1h-1zM315 22h2v1h-2zM313 23h1v1h-1zM313 24h1v1h-1zM321 15h1v1h-1zM320 16h1v1h-1zM322 16h1v1h-1zM319 17h1v1h-1zM323 17h1v1h-1zM319 18h1v1h-1zM323 18h1v1h-1zM319 19h1v1h-1zM323 19h1v1h-1zM319 20h1v1h-1zM323 20h1v1h-1zM320 21h1v1h-1zM322 21h1v1h-1zM321 22h1v1h-1zM326 15h3v1h-3zM325 16h1v1h-1zM329 16h1v1h-1zM329 17h1v1h-1zM328 18h1v1h-1zM327 19h1v1h-1zM326 20h1v1h-1zM325 21h1v1h-1zM325 22h5v1h-5zM333 15h1v1h-1zM332 16h1v1h-1zM334 16h1v1h-1zM331 17h1v1h-1zM335 17h1v1h-1zM331 18h1v1h-1zM335 18h1v1h-1zM331 19h1v1h-1zM335 19h1v1h-1zM331 20h1v1h-1zM335 20h1v1h-1zM332 21h1v1h-1zM334 21h1v1h-1zM333 22h1v1h-1zM339 15h1v1h-1zM338 16h1v1h-1zM340 16h1v1h-1zM337 17h1v1h-1zM341 17h1v1h-1zM337 18h1v1h-1zM341 18h1v1h-1zM337 19h1v1h-1zM341 19h1v1h-1zM337 20h1v1h-1zM341 20h1v1h-1zM338 21h1v1h-1zM340 21h1v1h-1zM339 22h1v1h-1zM343 23h5v1h-5zM350 15h3v1h-3zM349 16h1v1h-1zM353 16h1v1h-1zM353 17h1v1h-1zM352 18h1v1h-1zM351 19h1v1h-1zM350 20h1v1h-1zM349 21h1v1h-1zM349 22h5v1h-5zM356 15h3v1h-3zM355 16h1v1h-1zM359 16h1v1h-1zM359 17h1v1h-1zM358 18h1v1h-1zM357 19h1v1h-1zM356 20h1v1h-1zM355 21h1v1h-1zM355 22h5v1h-5zM540 45h2v1h-2zM541 46h1v1h-1zM541 47h1v1h-1zM541 48h1v1h-1zM541 49h1v1h-1zM541 50h1v1h-1zM541 51h1v1h-1zM540 52h3v1h-3zM547 45h1v1h-1zM546 47h2v1h-2zM547 48h1v1h-1zM547 49h1v1h-1zM547 50h1v1h-1zM547 51h1v1h-1zM546 52h3v1h-3zM551 47h1v1h-1zM553 47h2v1h-2zM551 48h2v1h-2zM555 48h1v1h-1zM551 49h1v1h-1zM555 49h1v1h-1zM551 50h1v1h-1zM555 50h1v1h-1zM551 51h1v1h-1zM555 51h1v1h-1zM551 52h1v1h-1zM555 52h1v1h-1zM558 47h3v1h-3zM557 48h1v1h-1zM561 48h1v1h-1zM557 49h5v1h-5zM557 50h1v1h-1zM557 51h1v1h-1zM558 52h3v1h-3zM571 45h1v1h-1zM570 46h2v1h-2zM569 47h1v1h-1zM571 47h1v1h-1zM571 48h1v1h-1zM571 49h1v1h-1zM571 50h1v1h-1zM571 51h1v1h-1zM569 52h5v1h-5zM540 58h2v1h-2zM541 59h1v1h-1zM541 60h1v1h-1zM541 61h1v1h-1zM541 62h1v1h-1zM541 63h1v1h-1zM541 64h1v1h-1zM540 65h3v1h-3zM547 58h1v1h-1zM546 60h2v1h-2zM547 61h1v1h-1zM547 62h1v1h-1zM547 63h1v1h-1zM547 64h1v1h-1zM546 65h3v1h-3zM551 60h1v1h-1zM553 60h2v1h-2zM551 61h2v1h-2zM555 61h1v1h-1zM551 62h1v1h-1zM555 62h1v1h-1zM551 63h1v1h-1zM555 63h1v1h-1zM551 64h1v1h-1zM555 64h1v1h-1zM551 65h1v1h-1zM555 65h1v1h-1zM558 60h3v1h-3zM557 61h1v1h-1zM561 61h1v1h-1zM557 62h5v1h-5zM557 63h1v1h-1zM557 64h1v1h-1zM558 65h3v1h-3zM570 58h3v1h-3zM569 59h1v1h-1zM573 59h1v1h-1zM573 60h1v1h-1zM572 61h1v1h-1zM571 62h1v1h-1zM570 63h1v1h-1zM569 64h1v1h-1zM569 65h5v1h-5zM540 71h2v1h-2zM541 72h1v1h-1zM541 73h1v1h-1zM541 74h1v1h-1zM541 75h1v1h-1zM541 76h1v1h-1zM541 77h1v1h-1zM540 78h3v1h-3zM547 71h1v1h-1zM546 73h2v1h-2zM547 74h1v1h-1zM547 75h1v1h-1zM547 76h1v1h-1zM547 77h1v1h-1zM546 78h3v1h-3zM551 73h1v1h-1zM553 73h2v1h-2zM551 74h2v1h-2zM555 74h1v1h-1zM551 75h1v1h-1zM555 75h1v1h-1zM551 76h1v1h-1zM555 76h1v1h-1zM551 77h1v1h-1zM555 77h1v1h-1zM551 78h1v1h-1zM555 78h1v1h-1zM558 73h3v1h-3zM557 74h1v1h-1zM561 74h1v1h-1zM557 75h5v1h-5zM557 76h1v1h-1zM557 77h1v1h-1zM558 78h3v1h-3zM570 71h3v1h-3zM569 72h1v1h-1zM573 72h1v1h-1zM573 73h1v1h-1zM571 74h2v1h-2zM573 75h1v1h-1zM573 76h1v1h-1zM569 77h1v1h-1zM573 77h1v1h-1zM570 78h3v1h-3zM540 84h2v1h-2zM541 85h1v1h-1zM541 86h1v1h-1zM541 87h1v1h-1zM541 88h1v1h-1zM541 89h1v1h-1zM541 90h1v1h-1zM540 91h3v1h-3zM547 84h1v1h-1zM546 86h2v1h-2zM547 87h1v1h-1zM547 88h1v1h-1zM547 89h1v1h-1zM547 90h1v1h-1zM546 91h3v1h-3zM551 86h1v1h-1zM553 86h2v1h-2zM551 87h2v1h-2zM555 87h1v1h-1zM551 88h1v1h-1zM555 88h1v1h-1zM551 89h1v1h-1zM555 89h1v1h-1zM551 90h1v1h-1zM555 90h1v1h-1zM551 91h1v1h-1zM555 91h1v1h-1zM558 86h3v1h-3zM557 87h1v1h-1zM561 87h1v1h-1zM557 88h5v1h-5zM557 89h1v1h-1zM557 90h1v1h-1zM558 91h3v1h-3zM572 84h1v1h-1zM571 85h2v1h-2zM570 86h1v1h-1zM572 86h1v1h-1zM569 87h1v1h-1zM572 87h1v1h-1zM569 88h1v1h-1zM572 88h1v1h-1zM569 89h5v1h-5zM572 90h1v1h-1zM572 91h1v1h-1zM540 97h2v1h-2zM541 98h1v1h-1zM541 99h1v1h-1zM541 100h1v1h-1zM541 101h1v1h-1zM541 102h1v1h-1zM541 103h1v1h-1zM540 104h3v1h-3zM547 97h1v1h-1zM546 99h2v1h-2zM547 100h1v1h-1zM547 101h1v1h-1zM547 102h1v1h-1zM547 103h1v1h-1zM546 104h3v1h-3zM551 99h1v1h-1zM553 99h2v1h-2zM551 100h2v1h-2zM555 100h1v1h-1zM551 101h1v1h-1zM555 101h1v1h-1zM551 102h1v1h-1zM555 102h1v1h-1zM551 103h1v1h-1zM555 103h1v1h-1zM551 104h1v1h-1zM555 104h1v1h-1zM558 99h3v1h-3zM557 100h1v1h-1zM561 100h1v1h-1zM557 101h5v1h-5zM557 102h1v1h-1zM557 103h1v1h-1zM558 104h3v1h-3zM569 97h5v1h-5zM569 98h1v1h-1zM569 99h4v1h-4zM569 100h1v1h-1zM573 100h1v1h-1zM573 101h1v1h-1zM573 102h1v1h-1zM569 103h1v1h-1zM573 103h1v1h-1zM570 104h3v1h-3zM540 110h2v1h-2zM541 111h1v1h-1zM541 112h1v1h-1zM541 113h1v1h-1zM541 114h1v1h-1zM541 115h1v1h-1zM541 116h1v1h-1zM540 117h3v1h-3zM547 110h1v1h-1zM546 112h2v1h-2zM547 113h1v1h-1zM547 114h1v1h-1zM547 115h1v1h-1zM547 116h1v1h-1zM546 117h3v1h-3zM551 112h1v1h-1zM553 112h2v1h-2zM551 113h2v1h-2zM555 113h1v1h-1zM551 114h1v1h-1zM555 114h1v1h-1zM551 115h1v1h-1zM555 115h1v1h-1zM551 116h1v1h-1zM555 116h1v1h-1zM551 117h1v1h-1zM555 117h1v1h-1zM558 112h3v1h-3zM557 113h1v1h-1zM561 113h1v1h-1zM557 114h5v1h-5zM557 115h1v1h-1zM557 116h1v1h-1zM558 117h3v1h-3zM571 110h3v1h-3zM570 111h1v1h-1zM569 112h1v1h-1zM569 113h4v1h-4zM569 114h1v1h-1zM573 114h1v1h-1zM569 115h1v1h-1zM573 115h1v1h-1zM569 116h1v1h-1zM573 116h1v1h-1zM570 117h3v1h-3zM540 123h2v1h-2zM541 124h1v1h-1zM541 125h1v1h-1zM541 126h1v1h-1zM541 127h1v1h-1zM541 128h1v1h-1zM541 129h1v1h-1zM540 130h3v1h-3zM547 123h1v1h-1zM546 125h2v1h-2zM547 126h1v1h-1zM547 127h1v1h-1zM547 128h1v1h-1zM547 129h1v1h-1zM546 130h3v1h-3zM551 125h1v1h-1zM553 125h2v1h-2zM551 126h2v1h-2zM555 126h1v1h-1zM551 127h1v1h-1zM555 127h1v1h-1zM551 128h1v1h-1zM555 128h1v1h-1zM551 129h1v1h-1zM555 129h1v1h-1zM551 130h1v1h-1zM555 130h1v1h-1zM558 125h3v1h-3zM557 126h1v1h-1zM561 126h1v1h-1zM557 127h5v1h-5zM557 128h1v1h-1zM557 129h1v1h-1zM558 130h3v1h-3zM569 123h5v1h-5zM573 124h1v1h-1zM572 125h1v1h-1zM572 126h1v1h-1zM571 127h1v1h-1zM571 128h1v1h-1zM570 129h1v1h-1zM570 130h1v1h-1zM540 136h2v1h-2zM541 137h1v1h-1zM541 138h1v1h-1zM541 139h1v1h-1zM541 140h1v1h-1zM541 141h1v1h-1zM541 142h1v1h-1zM540 143h3v1h-3zM547 136h1v1h-1zM546 138h2v1h-2zM547 139h1v1h-1zM547 140h1v1h-1zM547 141h1v1h-1zM547 142h1v1h-1zM546 143h3v1h-3zM551 138h1v1h-1zM553 138h2v1h-2zM551 139h2v1h-2zM555 139h1v1h-1zM551 140h1v1h-1zM555 140h1v1h-1zM551 141h1v1h-1zM555 141h1v1h-1zM551 142h1v1h-1zM555 142h1v1h-1zM551 143h1v1h-1zM555 143h1v1h-1zM558 138h3v1h-3zM557 139h1v1h-1zM561 139h1v1h-1zM557 140h5v1h-5zM557 141h1v1h-1zM557 142h1v1h-1zM558 143h3v1h-3zM570 136h3v1h-3zM569 137h1v1h-1zM573 137h1v1h-1zM569 138h1v1h-1zM573 138h1v1h-1zM570 139h3v1h-3zM569 140h1v1h-1zM573 140h1v1h-1zM569 141h1v1h-1zM573 141h1v1h-1zM569 142h1v1h-1zM573 142h1v1h-1zM570 143h3v1h-3zM540 149h2v1h-2zM541 150h1v1h-1zM541 151h1v1h-1zM541 152h1v1h-1zM541 153h1v1h-1zM541 154h1v1h-1zM541 155h1v1h-1zM540 156h3v1h-3zM547 149h1v1h-1zM546 151h2v1h-2zM547 152h1v1h-1zM547 153h1v1h-1zM547 154h1v1h-1zM547 155h1v1h-1zM546 156h3v1h-3zM551 151h1v1h-1zM553 151h2v1h-2zM551 152h2v1h-2zM555 152h1v1h-1zM551 153h1v1h-1zM555 153h1v1h-1zM551 154h1v1h-1zM555 154h1v1h-1zM551 155h1v1h-1zM555 155h1v1h-1zM551 156h1v1h-1zM555 156h1v1h-1zM558 151h3v1h-3zM557 152h1v1h-1zM561 152h1v1h-1zM557 153h5v1h-5zM557 154h1v1h-1zM557 155h1v1h-1zM558 156h3v1h-3zM570 149h3v1h-3zM569 150h1v1h-1zM573 150h1v1h-1zM569 151h1v1h-1zM573 151h1v1h-1zM569 152h1v1h-1zM573 152h1v1h-1zM570 153h4v1h-4zM573 154h1v1h-1zM572 155h1v1h-1zM569 156h3v1h-3zM534 162h2v1h-2zM535 163h1v1h-1zM535 164h1v1h-1zM535 165h1v1h-1zM535 166h1v1h-1zM535 167h1v1h-1zM535 168h1v1h-1zM534 169h3v1h-3zM541 162h1v1h-1zM540 164h2v1h-2zM541 165h1v1h-1zM541 166h1v1h-1zM541 167h1v1h-1zM541 168h1v1h-1zM540 169h3v1h-3zM545 164h1v1h-1zM547 164h2v1h-2zM545 165h2v1h-2zM549 165h1v1h-1zM545 166h1v1h-1zM549 166h1v1h-1zM545 167h1v1h-1zM549 167h1v1h-1zM545 168h1v1h-1zM549 168h1v1h-1zM545 169h1v1h-1zM549 169h1v1h-1zM552 164h3v1h-3zM551 165h1v1h-1zM555 165h1v1h-1zM551 166h5v1h-5zM551 167h1v1h-1zM551 168h1v1h-1zM552 169h3v1h-3zM565 162h1v1h-1zM564 163h2v1h-2zM563 164h1v1h-1zM565 164h1v1h-1zM565 165h1v1h-1zM565 166h1v1h-1zM565 167h1v1h-1zM565 168h1v1h-1zM563 169h5v1h-5zM571 162h1v1h-1zM570 163h1v1h-1zM572 163h1v1h-1zM569 164h1v1h-1zM573 164h1v1h-1zM569 165h1v1h-1zM573 165h1v1h-1zM569 166h1v1h-1zM573 166h1v1h-1zM569 167h1v1h-1zM573 167h1v1h-1zM570 168h1v1h-1zM572 168h1v1h-1zM571 169h1v1h-1zM534 175h2v1h-2zM535 176h1v1h-1zM535 177h1v1h-1zM535 178h1v1h-1zM535 179h1v1h-1zM535 180h1v1h-1zM535 181h1v1h-1zM534 182h3v1h-3zM541 175h1v1h-1zM540 177h2v1h-2zM541 178h1v1h-1zM541 179h1v1h-1zM541 180h1v1h-1zM541 181h1v1h-1zM540 182h3v1h-3zM545 177h1v1h-1zM547 177h2v1h-2zM545 178h2v1h-2zM549 178h1v1h-1zM545 179h1v1h-1zM549 179h1v1h-1zM545 180h1v1h-1zM549 180h1v1h-1zM545 181h1v1h-1zM549 181h1v1h-1zM545 182h1v1h-1zM549 182h1v1h-1zM552 177h3v1h-3zM551 178h1v1h-1zM555 178h1v1h-1zM551 179h5v1h-5zM551 180h1v1h-1zM551 181h1v1h-1zM552 182h3v1h-3zM565 175h1v1h-1zM564 176h2v1h-2zM563 177h1v1h-1zM565 177h1v1h-1zM565 178h1v1h-1zM565 179h1v1h-1zM565 180h1v1h-1zM565 181h1v1h-1zM563 182h5v1h-5zM571 175h1v1h-1zM570 176h2v1h-2zM569 177h1v1h-1zM571 177h1v1h-1zM571 178h1v1h-1zM571 179h1v1h-1zM571 180h1v1h-1zM571 181h1v1h-1zM569 182h5v1h-5zM534 188h2v1h-2zM535 189h1v1h-1zM535 190h1v1h-1zM535 191h1v1h-1zM535 192h1v1h-1zM535 193h1v1h-1zM535 194h1v1h-1zM534 195h3v1h-3zM541 188h1v1h-1zM540 190h2v1h-2zM541 191h1v1h-1zM541 192h1v1h-1zM541 193h1v1h-1zM541 194h1v1h-1zM540 195h3v1h-3zM545 190h1v1h-1zM547 190h2v1h-2zM545 191h2v1h-2zM549 191h1v1h-1zM545 192h1v1h-1zM549 192h1v1h-1zM545 193h1v1h-1zM549 193h1v1h-1zM545 194h1v1h-1zM549 194h1v1h-1zM545 195h1v1h-1zM549 195h1v1h-1zM552 190h3v1h-3zM551 191h1v1h-1zM555 191h1v1h-1zM551 192h5v1h-5zM551 193h1v1h-1zM551 194h1v1h-1zM552 195h3v1h-3zM565 188h1v1h-1zM564 189h2v1h-2zM563 190h1v1h-1zM565 190h1v1h-1zM565 191h1v1h-1zM565 192h1v1h-1zM565 193h1v1h-1zM565 194h1v1h-1zM563 195h5v1h-5zM570 188h3v1h-3zM569 189h1v1h-1zM573 189h1v1h-1zM573 190h1v1h-1zM572 191h1v1h-1zM571 192h1v1h-1zM570 193h1v1h-1zM569 194h1v1h-1zM569 195h5v1h-5z"/>
</svg></body></html>
